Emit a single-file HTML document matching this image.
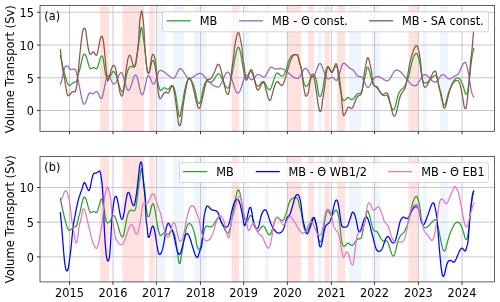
<!DOCTYPE html>
<html><head><meta charset="utf-8"><title>Volume Transport</title>
<style>
html,body{margin:0;padding:0;background:#fff;}
svg{display:block}
text{font-family:'DejaVu Sans','Liberation Sans',sans-serif;font-size:11.6px;fill:#000}
</style></head><body>
<svg width="500" height="302" viewBox="0 0 500 302">
<rect width="500" height="302" fill="#fff"/>

<g>
<rect x="100.0" y="5.5" width="9.0" height="125.8" fill="#ffe2df"/>
<rect x="122.2" y="5.5" width="22.0" height="125.8" fill="#ffe2df"/>
<rect x="149.3" y="5.5" width="5.2" height="125.8" fill="#ffe2df"/>
<rect x="231.5" y="5.5" width="7.6" height="125.8" fill="#ffe2df"/>
<rect x="287.4" y="5.5" width="13.9" height="125.8" fill="#ffe2df"/>
<rect x="308" y="5.5" width="6.0" height="125.8" fill="#ffe2df"/>
<rect x="324.4" y="5.5" width="5.4" height="125.8" fill="#ffe2df"/>
<rect x="337.1" y="5.5" width="8.0" height="125.8" fill="#ffe2df"/>
<rect x="408.5" y="5.5" width="9.9" height="125.8" fill="#ffe2df"/>
<rect x="156.6" y="5.5" width="8.8" height="125.8" fill="#eef5fd"/>
<rect x="173" y="5.5" width="10.8" height="125.8" fill="#eef5fd"/>
<rect x="194" y="5.5" width="12.0" height="125.8" fill="#eef5fd"/>
<rect x="243.6" y="5.5" width="5.3" height="125.8" fill="#eef5fd"/>
<rect x="265" y="5.5" width="3.8" height="125.8" fill="#eef5fd"/>
<rect x="317.7" y="5.5" width="4.4" height="125.8" fill="#eef5fd"/>
<rect x="349" y="5.5" width="12.3" height="125.8" fill="#eef5fd"/>
<rect x="372" y="5.5" width="7.9" height="125.8" fill="#eef5fd"/>
<rect x="422.9" y="5.5" width="3.9" height="125.8" fill="#eef5fd"/>
<rect x="440.2" y="5.5" width="7.5" height="125.8" fill="#eef5fd"/>
<path d="M69.5 5.5 V131.3 M113.0 5.5 V131.3 M156.4 5.5 V131.3 M200.5 5.5 V131.3 M243.6 5.5 V131.3 M287.4 5.5 V131.3 M331.4 5.5 V131.3 M374.5 5.5 V131.3 M418.4 5.5 V131.3 M462.0 5.5 V131.3 M40.0 110.5 H494.4 M40.0 77.8 H494.4 M40.0 45.0 H494.4 M40.0 12.3 H494.4" stroke="#c2c2c2" stroke-width="0.9" fill="none"/>
<path d="M60.4 55.4 L60.8 57.3 L61.2 59.3 L61.6 61.2 L62.0 63.0 L62.4 64.9 L62.8 66.6 L63.2 68.3 L63.6 70.0 L64.0 71.6 L64.4 73.1 L64.8 74.6 L65.2 76.0 L65.6 77.4 L66.0 78.8 L66.4 80.1 L66.8 81.3 L67.2 82.4 L67.6 83.4 L68.0 84.2 L68.4 84.9 L68.8 85.3 L69.2 85.4 L69.6 85.3 L70.0 85.2 L70.4 85.0 L70.8 84.7 L71.2 84.4 L71.6 84.1 L72.0 83.8 L72.4 83.4 L72.8 83.1 L73.2 82.8 L73.6 82.5 L74.0 82.2 L74.4 82.1 L74.8 82.0 L75.2 82.0 L75.6 82.0 L76.0 81.8 L76.4 81.4 L76.8 80.8 L77.2 79.6 L77.6 77.6 L78.0 75.5 L78.4 73.9 L78.8 72.6 L79.2 71.3 L79.6 70.0 L80.0 68.5 L80.4 66.8 L80.8 65.0 L81.2 63.2 L81.6 61.4 L82.0 59.6 L82.4 58.0 L82.8 56.6 L83.2 55.4 L83.6 54.6 L84.0 54.2 L84.4 54.1 L84.8 54.2 L85.2 54.6 L85.6 55.2 L86.0 56.1 L86.4 57.2 L86.8 58.4 L87.2 59.8 L87.6 61.2 L88.0 62.6 L88.4 64.0 L88.8 65.3 L89.2 66.4 L89.6 67.4 L90.0 68.1 L90.4 68.6 L90.8 68.8 L91.2 68.7 L91.6 68.6 L92.0 68.3 L92.4 68.1 L92.8 67.8 L93.2 67.7 L93.6 67.6 L94.0 67.7 L94.4 67.8 L94.8 68.1 L95.2 68.3 L95.6 68.6 L96.0 68.7 L96.4 68.8 L96.8 68.6 L97.2 68.0 L97.6 67.2 L98.0 66.0 L98.4 64.7 L98.8 63.3 L99.2 61.9 L99.6 60.5 L100.0 59.1 L100.4 58.0 L100.8 57.0 L101.2 56.4 L101.6 56.0 L102.0 56.0 L102.4 56.3 L102.8 57.4 L103.2 59.2 L103.6 61.5 L104.0 64.1 L104.4 66.8 L104.8 69.5 L105.2 72.1 L105.6 74.3 L106.0 76.0 L106.4 77.1 L106.8 77.9 L107.2 78.3 L107.6 78.4 L108.0 78.4 L108.4 78.3 L108.8 78.1 L109.2 77.8 L109.6 77.4 L110.0 76.9 L110.4 76.3 L110.8 75.6 L111.2 74.7 L111.6 73.8 L112.0 72.9 L112.4 72.1 L112.8 71.6 L113.2 71.4 L113.6 71.5 L114.0 71.7 L114.4 72.1 L114.8 72.7 L115.2 73.4 L115.6 74.1 L116.0 75.0 L116.4 76.0 L116.8 77.1 L117.2 78.3 L117.6 79.6 L118.0 80.9 L118.4 82.3 L118.8 83.7 L119.2 85.0 L119.6 86.4 L120.0 87.6 L120.4 88.7 L120.8 89.7 L121.2 90.5 L121.6 91.0 L122.0 91.4 L122.4 91.6 L122.8 91.4 L123.2 90.9 L123.6 89.9 L124.0 88.4 L124.4 86.6 L124.8 84.5 L125.2 82.3 L125.6 80.1 L126.0 78.0 L126.4 76.0 L126.8 74.2 L127.2 72.6 L127.6 71.2 L128.0 70.0 L128.4 69.0 L128.8 68.2 L129.2 67.6 L129.6 67.1 L130.0 66.7 L130.4 66.5 L130.8 66.4 L131.2 66.4 L131.6 66.6 L132.0 66.7 L132.4 66.8 L132.8 67.0 L133.2 67.0 L133.6 67.0 L134.0 67.1 L134.4 67.0 L134.8 66.6 L135.2 66.0 L135.6 65.0 L136.0 63.2 L136.4 60.6 L136.8 57.7 L137.2 55.0 L137.6 52.2 L138.0 49.2 L138.4 45.8 L138.8 42.6 L139.2 40.0 L139.6 37.5 L140.0 35.0 L140.4 32.1 L140.8 29.4 L141.2 27.5 L141.6 27.3 L142.0 29.0 L142.4 31.7 L142.8 34.7 L143.2 37.2 L143.6 39.4 L144.0 41.7 L144.4 44.5 L144.8 48.0 L145.2 52.3 L145.6 57.0 L146.0 61.3 L146.4 64.8 L146.8 67.8 L147.2 70.2 L147.6 71.8 L148.0 72.5 L148.4 72.7 L148.8 72.5 L149.2 71.9 L149.6 70.8 L150.0 69.4 L150.4 67.7 L150.8 66.0 L151.2 64.3 L151.6 62.8 L152.0 61.6 L152.4 60.8 L152.8 60.4 L153.2 60.4 L153.6 60.7 L154.0 61.7 L154.4 63.2 L154.8 65.1 L155.2 67.4 L155.6 69.8 L156.0 72.4 L156.4 74.8 L156.8 77.1 L157.2 79.3 L157.6 81.4 L158.0 83.4 L158.4 85.2 L158.8 86.8 L159.2 88.1 L159.6 89.1 L160.0 89.9 L160.4 90.3 L160.8 90.3 L161.2 90.1 L161.6 89.9 L162.0 89.5 L162.4 89.1 L162.8 88.8 L163.2 88.4 L163.6 88.1 L164.0 87.9 L164.4 87.8 L164.8 87.9 L165.2 88.0 L165.6 88.2 L166.0 88.5 L166.4 88.7 L166.8 89.0 L167.2 89.2 L167.6 89.3 L168.0 89.4 L168.4 89.3 L168.8 88.9 L169.2 88.5 L169.6 87.9 L170.0 87.2 L170.4 86.6 L170.8 86.1 L171.2 85.7 L171.6 85.4 L172.0 85.4 L172.4 85.5 L172.8 85.8 L173.2 86.3 L173.6 86.9 L174.0 87.8 L174.4 88.9 L174.8 90.3 L175.2 92.0 L175.6 94.0 L176.0 96.5 L176.4 99.3 L176.8 102.2 L177.2 105.0 L177.6 107.5 L178.0 110.0 L178.4 112.7 L178.8 115.2 L179.2 116.5 L179.6 116.5 L180.0 116.5 L180.4 115.2 L180.8 112.6 L181.2 110.0 L181.6 107.9 L182.0 106.0 L182.4 103.9 L182.8 101.5 L183.2 99.0 L183.6 96.4 L184.0 94.0 L184.4 91.8 L184.8 89.7 L185.2 87.9 L185.6 86.1 L186.0 84.6 L186.4 83.2 L186.8 82.0 L187.2 81.0 L187.6 80.2 L188.0 79.6 L188.4 79.3 L188.8 79.1 L189.2 79.0 L189.6 79.1 L190.0 79.2 L190.4 79.5 L190.8 79.8 L191.2 80.3 L191.6 80.8 L192.0 81.5 L192.4 82.3 L192.8 83.2 L193.2 84.3 L193.6 85.4 L194.0 86.7 L194.4 88.1 L194.8 89.6 L195.2 91.3 L195.6 93.1 L196.0 95.0 L196.4 97.2 L196.8 99.2 L197.2 100.7 L197.6 101.9 L198.0 102.7 L198.4 103.3 L198.8 103.5 L199.2 103.6 L199.6 103.3 L200.0 102.7 L200.4 101.7 L200.8 100.4 L201.2 98.7 L201.6 96.6 L202.0 94.5 L202.4 92.5 L202.8 90.7 L203.2 89.0 L203.6 87.5 L204.0 86.1 L204.4 84.9 L204.8 83.8 L205.2 82.9 L205.6 82.2 L206.0 81.7 L206.4 81.4 L206.8 81.4 L207.2 81.4 L207.6 81.5 L208.0 81.6 L208.4 81.7 L208.8 81.9 L209.2 82.0 L209.6 82.1 L210.0 82.2 L210.4 82.2 L210.8 82.2 L211.2 82.1 L211.6 81.9 L212.0 81.7 L212.4 81.3 L212.8 80.9 L213.2 80.5 L213.6 80.0 L214.0 79.5 L214.4 78.9 L214.8 78.3 L215.2 77.7 L215.6 77.0 L216.0 76.4 L216.4 75.7 L216.8 75.1 L217.2 74.6 L217.6 74.2 L218.0 73.9 L218.4 73.8 L218.8 73.9 L219.2 74.1 L219.6 74.4 L220.0 74.9 L220.4 75.5 L220.8 76.1 L221.2 76.9 L221.6 77.7 L222.0 78.5 L222.4 79.4 L222.8 80.3 L223.2 81.2 L223.6 82.1 L224.0 83.0 L224.4 83.9 L224.8 84.7 L225.2 85.5 L225.6 86.2 L226.0 86.8 L226.4 87.3 L226.8 87.7 L227.2 88.0 L227.6 88.2 L228.0 88.2 L228.4 87.8 L228.8 87.2 L229.2 86.2 L229.6 85.0 L230.0 83.6 L230.4 82.0 L230.8 80.2 L231.2 78.2 L231.6 76.2 L232.0 74.1 L232.4 71.9 L232.8 69.8 L233.2 67.6 L233.6 65.5 L234.0 63.4 L234.4 61.2 L234.8 59.2 L235.2 57.2 L235.6 55.3 L236.0 53.4 L236.4 51.7 L236.8 50.1 L237.2 48.8 L237.6 47.9 L238.0 47.4 L238.4 47.3 L238.8 47.4 L239.2 47.9 L239.6 49.0 L240.0 50.5 L240.4 52.4 L240.8 54.4 L241.2 56.6 L241.6 59.0 L242.0 61.5 L242.4 64.0 L242.8 66.3 L243.2 68.4 L243.6 70.4 L244.0 72.2 L244.4 73.9 L244.8 75.3 L245.2 76.4 L245.6 77.3 L246.0 77.8 L246.4 78.0 L246.8 77.8 L247.2 77.4 L247.6 76.7 L248.0 75.9 L248.4 74.9 L248.8 74.0 L249.2 73.1 L249.6 72.3 L250.0 71.8 L250.4 71.4 L250.8 71.4 L251.2 71.7 L251.6 72.2 L252.0 72.9 L252.4 73.8 L252.8 74.8 L253.2 75.9 L253.6 77.1 L254.0 78.3 L254.4 79.6 L254.8 80.8 L255.2 82.0 L255.6 83.1 L256.0 84.1 L256.4 84.9 L256.8 85.5 L257.2 86.0 L257.6 86.2 L258.0 86.2 L258.4 86.0 L258.8 85.7 L259.2 85.3 L259.6 84.9 L260.0 84.4 L260.4 83.9 L260.8 83.3 L261.2 82.8 L261.6 82.4 L262.0 82.0 L262.4 81.7 L262.8 81.5 L263.2 81.4 L263.6 81.5 L264.0 81.8 L264.4 82.2 L264.8 82.8 L265.2 83.5 L265.6 84.2 L266.0 85.0 L266.4 85.8 L266.8 86.6 L267.2 87.4 L267.6 88.1 L268.0 88.7 L268.4 89.2 L268.8 89.6 L269.2 89.8 L269.6 89.8 L270.0 89.5 L270.4 89.0 L270.8 88.4 L271.2 87.5 L271.6 86.5 L272.0 85.4 L272.4 84.3 L272.8 83.0 L273.2 81.7 L273.6 80.4 L274.0 79.2 L274.4 77.9 L274.8 76.8 L275.2 75.7 L275.6 74.8 L276.0 74.1 L276.4 73.5 L276.8 73.1 L277.2 73.0 L277.6 73.1 L278.0 73.2 L278.4 73.5 L278.8 73.8 L279.2 74.2 L279.6 74.6 L280.0 75.0 L280.4 75.4 L280.8 75.7 L281.2 76.0 L281.6 76.1 L282.0 76.2 L282.4 76.1 L282.8 75.9 L283.2 75.6 L283.6 75.1 L284.0 74.5 L284.4 73.8 L284.8 73.0 L285.2 72.0 L285.6 71.0 L286.0 69.9 L286.4 68.7 L286.8 67.4 L287.2 66.0 L287.6 64.5 L288.0 63.0 L288.4 61.7 L288.8 60.6 L289.2 59.6 L289.6 58.7 L290.0 58.0 L290.4 57.3 L290.8 56.8 L291.2 56.4 L291.6 56.0 L292.0 55.6 L292.4 55.3 L292.8 55.1 L293.2 54.9 L293.6 54.8 L294.0 54.6 L294.4 54.6 L294.8 54.5 L295.2 54.5 L295.6 54.5 L296.0 54.5 L296.4 54.5 L296.8 54.7 L297.2 55.1 L297.6 55.6 L298.0 56.4 L298.4 57.7 L298.8 59.4 L299.2 61.3 L299.6 63.0 L300.0 64.3 L300.4 65.4 L300.8 66.6 L301.2 68.3 L301.6 70.3 L302.0 72.6 L302.4 75.1 L302.8 77.5 L303.2 79.7 L303.6 81.6 L304.0 83.1 L304.4 84.2 L304.8 85.1 L305.2 85.7 L305.6 86.1 L306.0 86.3 L306.4 86.3 L306.8 86.2 L307.2 85.9 L307.6 85.5 L308.0 84.9 L308.4 84.1 L308.8 83.3 L309.2 82.3 L309.6 81.1 L310.0 79.9 L310.4 78.5 L310.8 77.2 L311.2 76.0 L311.6 75.0 L312.0 74.4 L312.4 74.0 L312.8 74.0 L313.2 74.1 L313.6 74.2 L314.0 74.5 L314.4 74.9 L314.8 75.6 L315.2 76.4 L315.6 77.5 L316.0 78.9 L316.4 80.7 L316.8 82.9 L317.2 85.6 L317.6 88.4 L318.0 90.8 L318.4 92.9 L318.8 94.7 L319.2 95.8 L319.6 96.4 L320.0 96.5 L320.4 96.4 L320.8 96.0 L321.2 95.2 L321.6 94.2 L322.0 92.8 L322.4 91.1 L322.8 89.0 L323.2 86.5 L323.6 83.7 L324.0 81.0 L324.4 78.6 L324.8 76.3 L325.2 74.2 L325.6 72.3 L326.0 70.6 L326.4 69.3 L326.8 68.2 L327.2 67.4 L327.6 67.0 L328.0 67.0 L328.4 67.3 L328.8 67.8 L329.2 68.4 L329.6 69.1 L330.0 69.8 L330.4 70.5 L330.8 71.1 L331.2 71.5 L331.6 71.6 L332.0 71.5 L332.4 71.1 L332.8 70.7 L333.2 70.0 L333.6 69.4 L334.0 68.6 L334.4 68.0 L334.8 67.3 L335.2 66.9 L335.6 66.5 L336.0 66.4 L336.4 66.5 L336.8 66.9 L337.2 67.6 L337.6 68.6 L338.0 69.9 L338.4 71.6 L338.8 73.5 L339.2 75.8 L339.6 78.5 L340.0 81.5 L340.4 85.0 L340.8 89.1 L341.2 92.6 L341.6 95.2 L342.0 97.2 L342.4 98.6 L342.8 99.6 L343.2 100.2 L343.6 100.5 L344.0 100.6 L344.4 100.5 L344.8 100.3 L345.2 100.0 L345.6 99.5 L346.0 99.1 L346.4 98.7 L346.8 98.2 L347.2 97.9 L347.6 97.7 L348.0 97.6 L348.4 97.7 L348.8 97.8 L349.2 98.0 L349.6 98.3 L350.0 98.6 L350.4 98.9 L350.8 99.2 L351.2 99.4 L351.6 99.5 L352.0 99.6 L352.4 99.5 L352.8 99.3 L353.2 99.0 L353.6 98.6 L354.0 98.1 L354.4 97.6 L354.8 97.0 L355.2 96.4 L355.6 95.9 L356.0 95.3 L356.4 94.8 L356.8 94.3 L357.2 94.0 L357.6 93.7 L358.0 93.5 L358.4 93.5 L358.8 93.5 L359.2 93.5 L359.6 93.4 L360.0 93.4 L360.4 93.2 L360.8 92.8 L361.2 92.3 L361.6 91.4 L362.0 90.3 L362.4 88.9 L362.8 87.0 L363.2 84.8 L363.6 82.5 L364.0 80.5 L364.4 79.0 L364.8 77.7 L365.2 76.4 L365.6 74.9 L366.0 72.7 L366.4 70.0 L366.8 68.3 L367.2 67.4 L367.6 67.1 L368.0 67.1 L368.4 67.9 L368.8 69.2 L369.2 70.5 L369.6 71.8 L370.0 73.2 L370.4 74.7 L370.8 76.4 L371.2 78.0 L371.6 79.6 L372.0 81.0 L372.4 82.3 L372.8 83.4 L373.2 84.3 L373.6 85.1 L374.0 85.6 L374.4 85.9 L374.8 86.1 L375.2 86.2 L375.6 86.2 L376.0 86.3 L376.4 86.4 L376.8 86.5 L377.2 86.9 L377.6 87.4 L378.0 88.0 L378.4 88.7 L378.8 89.5 L379.2 90.2 L379.6 91.0 L380.0 91.7 L380.4 92.3 L380.8 92.9 L381.2 93.5 L381.6 94.1 L382.0 94.5 L382.4 94.9 L382.8 95.2 L383.2 95.5 L383.6 95.6 L384.0 95.6 L384.4 95.5 L384.8 95.5 L385.2 95.4 L385.6 95.3 L386.0 95.3 L386.4 95.4 L386.8 95.5 L387.2 95.8 L387.6 96.3 L388.0 97.1 L388.4 98.0 L388.8 99.0 L389.2 100.2 L389.6 101.5 L390.0 102.7 L390.4 104.0 L390.8 105.2 L391.2 106.4 L391.6 107.4 L392.0 108.3 L392.4 109.0 L392.8 109.4 L393.2 109.7 L393.6 109.7 L394.0 109.5 L394.4 108.8 L394.8 107.9 L395.2 106.6 L395.6 105.1 L396.0 103.5 L396.4 101.8 L396.8 100.1 L397.2 98.5 L397.6 97.0 L398.0 95.7 L398.4 94.6 L398.8 93.6 L399.2 92.7 L399.6 91.9 L400.0 91.2 L400.4 90.7 L400.8 90.2 L401.2 89.7 L401.6 89.4 L402.0 89.0 L402.4 88.7 L402.8 88.4 L403.2 88.0 L403.6 87.6 L404.0 87.1 L404.4 86.5 L404.8 85.8 L405.2 85.1 L405.6 84.3 L406.0 83.4 L406.4 82.5 L406.8 81.6 L407.2 80.7 L407.6 79.7 L408.0 78.6 L408.4 77.4 L408.8 76.0 L409.2 74.4 L409.6 72.6 L410.0 70.7 L410.4 68.8 L410.8 66.9 L411.2 65.1 L411.6 63.4 L412.0 61.9 L412.4 60.5 L412.8 59.2 L413.2 58.1 L413.6 57.1 L414.0 56.2 L414.4 55.4 L414.8 54.7 L415.2 54.2 L415.6 53.8 L416.0 53.5 L416.4 53.4 L416.8 53.6 L417.2 54.1 L417.6 55.0 L418.0 56.0 L418.4 57.2 L418.8 58.5 L419.2 60.0 L419.6 61.8 L420.0 64.0 L420.4 66.8 L420.8 69.9 L421.2 73.0 L421.6 75.7 L422.0 77.8 L422.4 79.3 L422.8 80.5 L423.2 81.4 L423.6 82.1 L424.0 82.6 L424.4 82.8 L424.8 83.0 L425.2 83.0 L425.6 83.0 L426.0 82.9 L426.4 82.8 L426.8 82.6 L427.2 82.4 L427.6 82.1 L428.0 81.8 L428.4 81.4 L428.8 81.0 L429.2 80.6 L429.6 80.2 L430.0 79.8 L430.4 79.3 L430.8 78.9 L431.2 78.4 L431.6 78.0 L432.0 77.6 L432.4 77.2 L432.8 76.8 L433.2 76.5 L433.6 76.2 L434.0 75.9 L434.4 75.7 L434.8 75.5 L435.2 75.4 L435.6 75.4 L436.0 75.6 L436.4 76.2 L436.8 77.1 L437.2 78.3 L437.6 79.7 L438.0 81.4 L438.4 83.2 L438.8 85.2 L439.2 87.2 L439.6 89.2 L440.0 91.2 L440.4 93.2 L440.8 95.1 L441.2 96.9 L441.6 98.5 L442.0 100.1 L442.4 101.5 L442.8 102.7 L443.2 103.7 L443.6 104.4 L444.0 104.8 L444.4 104.9 L444.8 104.8 L445.2 104.4 L445.6 103.5 L446.0 102.3 L446.4 100.8 L446.8 99.2 L447.2 97.5 L447.6 96.0 L448.0 94.6 L448.4 93.2 L448.8 92.0 L449.2 90.8 L449.6 89.7 L450.0 88.7 L450.4 87.7 L450.8 86.7 L451.2 85.8 L451.6 84.9 L452.0 84.0 L452.4 83.2 L452.8 82.4 L453.2 81.7 L453.6 81.0 L454.0 80.4 L454.4 79.9 L454.8 79.4 L455.2 79.0 L455.6 78.6 L456.0 78.3 L456.4 78.1 L456.8 78.0 L457.2 77.9 L457.6 77.8 L458.0 77.8 L458.4 77.9 L458.8 78.1 L459.2 78.4 L459.6 78.8 L460.0 79.3 L460.4 79.9 L460.8 80.6 L461.2 81.3 L461.6 82.2 L462.0 83.1 L462.4 84.1 L462.8 85.2 L463.2 86.3 L463.6 87.5 L464.0 88.9 L464.4 90.4 L464.8 91.8 L465.2 93.0 L465.6 93.8 L466.0 94.2 L466.4 94.2 L466.8 93.9 L467.2 92.9 L467.6 91.4 L468.0 89.3 L468.4 86.8 L468.8 83.9 L469.2 80.7 L469.6 77.2 L470.0 73.5 L470.4 69.7 L470.8 65.9 L471.2 62.5 L471.6 59.6 L472.0 57.2 L472.4 55.0 L472.8 53.0 L473.2 51.1 L473.6 49.3 L473.8 48.4" stroke="#2ca02c" stroke-width="1.25" fill="none" stroke-linejoin="round" stroke-linecap="square"/>
<path d="M60.4 84.4 L60.8 83.3 L61.2 82.1 L61.6 80.8 L62.0 79.4 L62.4 77.8 L62.8 76.0 L63.2 73.9 L63.6 71.8 L64.0 70.0 L64.4 68.6 L64.8 67.6 L65.2 66.9 L65.6 66.3 L66.0 66.0 L66.4 65.8 L66.8 65.8 L67.2 65.9 L67.6 66.2 L68.0 66.7 L68.4 67.2 L68.8 67.7 L69.2 68.3 L69.6 68.8 L70.0 69.2 L70.4 69.4 L70.8 69.4 L71.2 69.4 L71.6 69.3 L72.0 69.3 L72.4 69.3 L72.8 69.2 L73.2 69.2 L73.6 69.2 L74.0 69.2 L74.4 69.2 L74.8 69.3 L75.2 69.6 L75.6 70.1 L76.0 71.0 L76.4 72.4 L76.8 74.1 L77.2 76.0 L77.6 77.8 L78.0 79.7 L78.4 81.5 L78.8 83.4 L79.2 85.4 L79.6 87.4 L80.0 89.6 L80.4 91.7 L80.8 93.8 L81.2 95.9 L81.6 97.8 L82.0 99.5 L82.4 101.0 L82.8 102.3 L83.2 103.3 L83.6 103.8 L84.0 104.1 L84.4 104.1 L84.8 103.9 L85.2 103.3 L85.6 102.6 L86.0 101.6 L86.4 100.5 L86.8 99.3 L87.2 98.1 L87.6 96.8 L88.0 95.7 L88.4 94.7 L88.8 93.8 L89.2 93.2 L89.6 92.8 L90.0 92.8 L90.4 92.9 L90.8 93.1 L91.2 93.3 L91.6 93.4 L92.0 93.6 L92.4 93.8 L92.8 93.8 L93.2 93.7 L93.6 93.6 L94.0 93.3 L94.4 93.0 L94.8 92.6 L95.2 92.2 L95.6 91.9 L96.0 91.6 L96.4 91.5 L96.8 91.4 L97.2 91.6 L97.6 92.0 L98.0 92.7 L98.4 93.6 L98.8 94.5 L99.2 95.5 L99.6 96.4 L100.0 97.3 L100.4 98.0 L100.8 98.4 L101.2 98.6 L101.6 98.4 L102.0 97.7 L102.4 96.6 L102.8 95.3 L103.2 93.6 L103.6 91.8 L104.0 89.8 L104.4 87.8 L104.8 85.7 L105.2 83.7 L105.6 81.7 L106.0 79.9 L106.4 78.4 L106.8 77.1 L107.2 76.1 L107.6 75.5 L108.0 75.4 L108.4 75.6 L108.8 75.9 L109.2 76.4 L109.6 77.1 L110.0 77.8 L110.4 78.6 L110.8 79.5 L111.2 80.3 L111.6 81.2 L112.0 82.0 L112.4 82.7 L112.8 83.3 L113.2 83.8 L113.6 84.1 L114.0 84.2 L114.4 84.1 L114.8 83.8 L115.2 83.3 L115.6 82.7 L116.0 82.0 L116.4 81.2 L116.8 80.3 L117.2 79.3 L117.6 78.4 L118.0 77.4 L118.4 76.4 L118.8 75.5 L119.2 74.7 L119.6 74.0 L120.0 73.4 L120.4 72.9 L120.8 72.6 L121.2 72.5 L121.6 72.7 L122.0 73.1 L122.4 73.9 L122.8 74.9 L123.2 76.0 L123.6 77.3 L124.0 78.7 L124.4 80.2 L124.8 81.8 L125.2 83.3 L125.6 84.7 L126.0 86.1 L126.4 87.3 L126.8 88.4 L127.2 89.3 L127.6 89.9 L128.0 90.2 L128.4 90.3 L128.8 90.2 L129.2 89.9 L129.6 89.3 L130.0 88.6 L130.4 87.6 L130.8 86.6 L131.2 85.4 L131.6 84.1 L132.0 82.8 L132.4 81.5 L132.8 80.3 L133.2 79.1 L133.6 78.0 L134.0 77.0 L134.4 76.2 L134.8 75.6 L135.2 75.3 L135.6 75.2 L136.0 75.3 L136.4 75.7 L136.8 76.5 L137.2 77.6 L137.6 79.1 L138.0 80.7 L138.4 82.5 L138.8 84.4 L139.2 86.2 L139.6 88.1 L140.0 89.8 L140.4 91.4 L140.8 92.8 L141.2 93.8 L141.6 94.4 L142.0 94.7 L142.4 94.8 L142.8 94.5 L143.2 93.8 L143.6 92.7 L144.0 91.3 L144.4 89.6 L144.8 87.8 L145.2 85.8 L145.6 83.9 L146.0 81.9 L146.4 80.1 L146.8 78.5 L147.2 77.2 L147.6 76.2 L148.0 75.5 L148.4 75.4 L148.8 75.6 L149.2 76.1 L149.6 76.7 L150.0 77.5 L150.4 78.4 L150.8 79.4 L151.2 80.4 L151.6 81.4 L152.0 82.3 L152.4 83.1 L152.8 83.7 L153.2 84.1 L153.6 84.2 L154.0 84.0 L154.4 83.6 L154.8 82.9 L155.2 82.0 L155.6 81.0 L156.0 79.8 L156.4 78.6 L156.8 77.3 L157.2 76.0 L157.6 74.7 L158.0 73.5 L158.4 72.4 L158.8 71.6 L159.2 71.1 L159.6 70.7 L160.0 70.5 L160.4 70.4 L160.8 70.4 L161.2 70.5 L161.6 70.6 L162.0 70.7 L162.4 70.9 L162.8 71.1 L163.2 71.3 L163.6 71.6 L164.0 71.8 L164.4 72.1 L164.8 72.4 L165.2 72.7 L165.6 73.0 L166.0 73.4 L166.4 73.7 L166.8 74.0 L167.2 74.4 L167.6 74.7 L168.0 75.0 L168.4 75.4 L168.8 75.7 L169.2 76.0 L169.6 76.4 L170.0 76.7 L170.4 76.9 L170.8 77.2 L171.2 77.5 L171.6 77.7 L172.0 77.9 L172.4 78.0 L172.8 78.1 L173.2 78.2 L173.6 78.2 L174.0 78.1 L174.4 77.8 L174.8 77.4 L175.2 76.8 L175.6 76.1 L176.0 75.3 L176.4 74.5 L176.8 73.6 L177.2 72.7 L177.6 71.9 L178.0 71.1 L178.4 70.4 L178.8 69.7 L179.2 69.2 L179.6 68.8 L180.0 68.6 L180.4 68.6 L180.8 68.7 L181.2 68.9 L181.6 69.3 L182.0 69.6 L182.4 70.1 L182.8 70.6 L183.2 71.2 L183.6 71.8 L184.0 72.4 L184.4 73.1 L184.8 73.8 L185.2 74.4 L185.6 75.1 L186.0 75.7 L186.4 76.3 L186.8 76.8 L187.2 77.3 L187.6 77.8 L188.0 78.1 L188.4 78.4 L188.8 78.5 L189.2 78.6 L189.6 78.6 L190.0 78.5 L190.4 78.4 L190.8 78.3 L191.2 78.1 L191.6 77.9 L192.0 77.7 L192.4 77.5 L192.8 77.3 L193.2 77.0 L193.6 76.7 L194.0 76.4 L194.4 76.1 L194.8 75.9 L195.2 75.6 L195.6 75.3 L196.0 75.0 L196.4 74.7 L196.8 74.5 L197.2 74.3 L197.6 74.1 L198.0 73.9 L198.4 73.7 L198.8 73.6 L199.2 73.5 L199.6 73.4 L200.0 73.4 L200.4 73.4 L200.8 73.5 L201.2 73.7 L201.6 73.9 L202.0 74.1 L202.4 74.4 L202.8 74.8 L203.2 75.1 L203.6 75.5 L204.0 76.0 L204.4 76.4 L204.8 76.9 L205.2 77.3 L205.6 77.8 L206.0 78.3 L206.4 78.8 L206.8 79.3 L207.2 79.7 L207.6 80.2 L208.0 80.6 L208.4 81.0 L208.8 81.5 L209.2 81.9 L209.6 82.2 L210.0 82.6 L210.4 83.0 L210.8 83.3 L211.2 83.7 L211.6 84.0 L212.0 84.3 L212.4 84.6 L212.8 84.9 L213.2 85.2 L213.6 85.5 L214.0 85.7 L214.4 85.9 L214.8 86.2 L215.2 86.3 L215.6 86.5 L216.0 86.6 L216.4 86.8 L216.8 86.9 L217.2 86.9 L217.6 87.0 L218.0 87.0 L218.4 87.0 L218.8 86.8 L219.2 86.5 L219.6 86.1 L220.0 85.6 L220.4 85.0 L220.8 84.3 L221.2 83.5 L221.6 82.7 L222.0 81.8 L222.4 80.9 L222.8 80.0 L223.2 79.0 L223.6 78.1 L224.0 77.2 L224.4 76.3 L224.8 75.5 L225.2 74.7 L225.6 74.0 L226.0 73.4 L226.4 72.9 L226.8 72.5 L227.2 72.2 L227.6 72.0 L228.0 72.0 L228.4 72.2 L228.8 72.6 L229.2 73.1 L229.6 73.8 L230.0 74.6 L230.4 75.5 L230.8 76.5 L231.2 77.6 L231.6 78.7 L232.0 79.9 L232.4 81.1 L232.8 82.4 L233.2 83.7 L233.6 84.9 L234.0 86.1 L234.4 87.3 L234.8 88.4 L235.2 89.4 L235.6 90.3 L236.0 91.1 L236.4 91.8 L236.8 92.3 L237.2 92.7 L237.6 92.9 L238.0 93.0 L238.4 92.9 L238.8 92.7 L239.2 92.2 L239.6 91.6 L240.0 90.8 L240.4 89.8 L240.8 88.7 L241.2 87.5 L241.6 86.3 L242.0 85.0 L242.4 83.7 L242.8 82.4 L243.2 81.1 L243.6 79.9 L244.0 78.7 L244.4 77.7 L244.8 76.8 L245.2 76.0 L245.6 75.5 L246.0 75.1 L246.4 75.0 L246.8 75.1 L247.2 75.3 L247.6 75.6 L248.0 76.0 L248.4 76.5 L248.8 77.0 L249.2 77.5 L249.6 78.1 L250.0 78.6 L250.4 79.0 L250.8 79.4 L251.2 79.6 L251.6 79.8 L252.0 79.8 L252.4 79.7 L252.8 79.4 L253.2 79.1 L253.6 78.8 L254.0 78.3 L254.4 77.9 L254.8 77.4 L255.2 76.8 L255.6 76.3 L256.0 75.9 L256.4 75.4 L256.8 75.1 L257.2 74.8 L257.6 74.5 L258.0 74.4 L258.4 74.4 L258.8 74.5 L259.2 74.6 L259.6 74.8 L260.0 75.0 L260.4 75.2 L260.8 75.5 L261.2 75.8 L261.6 76.0 L262.0 76.3 L262.4 76.5 L262.8 76.7 L263.2 76.9 L263.6 77.0 L264.0 77.0 L264.4 76.9 L264.8 76.7 L265.2 76.3 L265.6 75.8 L266.0 75.2 L266.4 74.5 L266.8 73.7 L267.2 72.9 L267.6 72.1 L268.0 71.3 L268.4 70.5 L268.8 69.7 L269.2 69.0 L269.6 68.4 L270.0 67.9 L270.4 67.5 L270.8 67.3 L271.2 67.2 L271.6 67.2 L272.0 67.3 L272.4 67.5 L272.8 67.7 L273.2 67.9 L273.6 68.1 L274.0 68.3 L274.4 68.5 L274.8 68.7 L275.2 68.9 L275.6 69.0 L276.0 69.0 L276.4 69.0 L276.8 69.0 L277.2 68.9 L277.6 68.9 L278.0 68.8 L278.4 68.8 L278.8 68.8 L279.2 68.7 L279.6 68.7 L280.0 68.6 L280.4 68.6 L280.8 68.6 L281.2 68.6 L281.6 68.7 L282.0 68.8 L282.4 68.9 L282.8 69.0 L283.2 69.2 L283.6 69.4 L284.0 69.6 L284.4 69.8 L284.8 70.1 L285.2 70.3 L285.6 70.6 L286.0 70.9 L286.4 71.2 L286.8 71.5 L287.2 71.8 L287.6 72.2 L288.0 72.5 L288.4 72.8 L288.8 73.2 L289.2 73.5 L289.6 73.9 L290.0 74.2 L290.4 74.5 L290.8 74.9 L291.2 75.2 L291.6 75.6 L292.0 75.9 L292.4 76.2 L292.8 76.5 L293.2 76.8 L293.6 77.1 L294.0 77.4 L294.4 77.6 L294.8 77.8 L295.2 78.0 L295.6 78.2 L296.0 78.3 L296.4 78.4 L296.8 78.5 L297.2 78.6 L297.6 78.6 L298.0 78.5 L298.4 78.3 L298.8 77.9 L299.2 77.5 L299.6 76.9 L300.0 76.3 L300.4 75.6 L300.8 74.8 L301.2 74.0 L301.6 73.3 L302.0 72.5 L302.4 71.7 L302.8 71.0 L303.2 70.3 L303.6 69.7 L304.0 69.2 L304.4 68.8 L304.8 68.5 L305.2 68.3 L305.6 68.3 L306.0 68.5 L306.4 68.7 L306.8 69.1 L307.2 69.6 L307.6 70.2 L308.0 70.8 L308.4 71.5 L308.8 72.2 L309.2 72.9 L309.6 73.6 L310.0 74.3 L310.4 75.0 L310.8 75.6 L311.2 76.1 L311.6 76.6 L312.0 76.9 L312.4 77.1 L312.8 77.2 L313.2 77.1 L313.6 76.7 L314.0 76.2 L314.4 75.5 L314.8 74.6 L315.2 73.6 L315.6 72.6 L316.0 71.5 L316.4 70.4 L316.8 69.2 L317.2 68.1 L317.6 67.1 L318.0 66.1 L318.4 65.2 L318.8 64.5 L319.2 64.0 L319.6 63.6 L320.0 63.5 L320.4 63.6 L320.8 64.0 L321.2 64.6 L321.6 65.3 L322.0 66.2 L322.4 67.2 L322.8 68.3 L323.2 69.4 L323.6 70.6 L324.0 71.8 L324.4 72.9 L324.8 74.0 L325.2 74.9 L325.6 75.8 L326.0 76.6 L326.4 77.3 L326.8 77.9 L327.2 78.4 L327.6 78.7 L328.0 78.9 L328.4 79.0 L328.8 78.9 L329.2 78.8 L329.6 78.5 L330.0 78.2 L330.4 78.0 L330.8 77.7 L331.2 77.4 L331.6 77.3 L332.0 77.2 L332.4 77.3 L332.8 77.5 L333.2 77.8 L333.6 78.2 L334.0 78.6 L334.4 79.0 L334.8 79.4 L335.2 79.8 L335.6 80.1 L336.0 80.3 L336.4 80.4 L336.8 80.2 L337.2 79.8 L337.6 79.1 L338.0 78.2 L338.4 77.2 L338.8 75.9 L339.2 74.6 L339.6 73.2 L340.0 71.8 L340.4 70.4 L340.8 69.0 L341.2 67.7 L341.6 66.4 L342.0 65.4 L342.4 64.5 L342.8 63.8 L343.2 63.4 L343.6 63.2 L344.0 63.2 L344.4 63.4 L344.8 63.6 L345.2 63.8 L345.6 64.1 L346.0 64.5 L346.4 64.9 L346.8 65.3 L347.2 65.7 L347.6 66.2 L348.0 66.6 L348.4 67.0 L348.8 67.4 L349.2 67.8 L349.6 68.1 L350.0 68.4 L350.4 68.6 L350.8 68.8 L351.2 69.0 L351.6 69.1 L352.0 69.3 L352.4 69.6 L352.8 69.8 L353.2 70.2 L353.6 70.6 L354.0 71.1 L354.4 71.7 L354.8 72.3 L355.2 72.9 L355.6 73.5 L356.0 74.1 L356.4 74.7 L356.8 75.2 L357.2 75.7 L357.6 76.0 L358.0 76.3 L358.4 76.4 L358.8 76.5 L359.2 76.5 L359.6 76.5 L360.0 76.5 L360.4 76.6 L360.8 76.7 L361.2 76.8 L361.6 77.0 L362.0 77.4 L362.4 77.9 L362.8 78.5 L363.2 79.3 L363.6 80.1 L364.0 81.0 L364.4 81.9 L364.8 82.8 L365.2 83.7 L365.6 84.5 L366.0 85.3 L366.4 86.0 L366.8 86.6 L367.2 87.0 L367.6 87.3 L368.0 87.4 L368.4 87.3 L368.8 87.0 L369.2 86.6 L369.6 86.0 L370.0 85.4 L370.4 84.6 L370.8 83.8 L371.2 83.0 L371.6 82.2 L372.0 81.3 L372.4 80.6 L372.8 79.9 L373.2 79.3 L373.6 78.8 L374.0 78.4 L374.4 78.0 L374.8 77.6 L375.2 77.4 L375.6 77.1 L376.0 76.9 L376.4 76.8 L376.8 76.7 L377.2 76.6 L377.6 76.6 L378.0 76.6 L378.4 76.6 L378.8 76.7 L379.2 76.8 L379.6 77.0 L380.0 77.2 L380.4 77.4 L380.8 77.6 L381.2 77.8 L381.6 78.1 L382.0 78.3 L382.4 78.6 L382.8 78.8 L383.2 79.1 L383.6 79.3 L384.0 79.6 L384.4 79.8 L384.8 80.0 L385.2 80.2 L385.6 80.4 L386.0 80.6 L386.4 80.7 L386.8 80.8 L387.2 80.8 L387.6 80.8 L388.0 80.7 L388.4 80.4 L388.8 80.1 L389.2 79.7 L389.6 79.2 L390.0 78.6 L390.4 78.0 L390.8 77.3 L391.2 76.6 L391.6 75.9 L392.0 75.2 L392.4 74.5 L392.8 73.8 L393.2 73.1 L393.6 72.5 L394.0 71.9 L394.4 71.4 L394.8 70.9 L395.2 70.5 L395.6 70.2 L396.0 70.1 L396.4 70.0 L396.8 70.0 L397.2 70.1 L397.6 70.2 L398.0 70.3 L398.4 70.5 L398.8 70.7 L399.2 70.9 L399.6 71.2 L400.0 71.5 L400.4 71.8 L400.8 72.1 L401.2 72.5 L401.6 72.9 L402.0 73.3 L402.4 73.7 L402.8 74.2 L403.2 74.6 L403.6 75.1 L404.0 75.6 L404.4 76.0 L404.8 76.5 L405.2 77.0 L405.6 77.5 L406.0 78.0 L406.4 78.5 L406.8 79.0 L407.2 79.5 L407.6 80.1 L408.0 80.6 L408.4 81.1 L408.8 81.6 L409.2 82.1 L409.6 82.6 L410.0 83.0 L410.4 83.5 L410.8 83.9 L411.2 84.2 L411.6 84.6 L412.0 84.9 L412.4 85.1 L412.8 85.3 L413.2 85.5 L413.6 85.6 L414.0 85.7 L414.4 85.7 L414.8 85.8 L415.2 85.8 L415.6 85.7 L416.0 85.6 L416.4 85.3 L416.8 85.0 L417.2 84.5 L417.6 84.1 L418.0 83.5 L418.4 82.9 L418.8 82.3 L419.2 81.6 L419.6 80.9 L420.0 80.2 L420.4 79.5 L420.8 78.8 L421.2 78.1 L421.6 77.5 L422.0 76.9 L422.4 76.4 L422.8 75.9 L423.2 75.4 L423.6 75.1 L424.0 74.8 L424.4 74.7 L424.8 74.6 L425.2 74.6 L425.6 74.7 L426.0 74.9 L426.4 75.1 L426.8 75.4 L427.2 75.7 L427.6 76.0 L428.0 76.4 L428.4 76.8 L428.8 77.2 L429.2 77.6 L429.6 78.1 L430.0 78.5 L430.4 79.0 L430.8 79.4 L431.2 79.8 L431.6 80.2 L432.0 80.6 L432.4 81.0 L432.8 81.3 L433.2 81.6 L433.6 81.8 L434.0 82.0 L434.4 82.1 L434.8 82.2 L435.2 82.2 L435.6 82.1 L436.0 81.9 L436.4 81.6 L436.8 81.2 L437.2 80.7 L437.6 80.2 L438.0 79.7 L438.4 79.1 L438.8 78.5 L439.2 78.0 L439.6 77.4 L440.0 76.8 L440.4 76.3 L440.8 75.8 L441.2 75.4 L441.6 75.1 L442.0 74.8 L442.4 74.7 L442.8 74.6 L443.2 74.6 L443.6 74.8 L444.0 75.0 L444.4 75.3 L444.8 75.6 L445.2 75.9 L445.6 76.3 L446.0 76.7 L446.4 77.1 L446.8 77.5 L447.2 77.9 L447.6 78.2 L448.0 78.5 L448.4 78.7 L448.8 78.9 L449.2 79.0 L449.6 79.0 L450.0 78.9 L450.4 78.8 L450.8 78.6 L451.2 78.4 L451.6 78.2 L452.0 77.9 L452.4 77.6 L452.8 77.3 L453.2 77.0 L453.6 76.7 L454.0 76.4 L454.4 76.1 L454.8 75.9 L455.2 75.7 L455.6 75.5 L456.0 75.4 L456.4 75.2 L456.8 75.1 L457.2 74.9 L457.6 74.6 L458.0 74.2 L458.4 73.6 L458.8 73.0 L459.2 72.2 L459.6 71.4 L460.0 70.5 L460.4 69.6 L460.8 68.6 L461.2 67.7 L461.6 66.8 L462.0 66.0 L462.4 65.2 L462.8 64.5 L463.2 63.9 L463.6 63.3 L464.0 62.9 L464.4 62.6 L464.8 62.4 L465.2 62.4 L465.6 62.8 L466.0 63.5 L466.4 64.5 L466.8 65.8 L467.2 67.3 L467.6 69.1 L468.0 71.0 L468.4 73.1 L468.8 75.4 L469.2 77.8 L469.6 80.4 L470.0 83.1 L470.4 85.6 L470.8 88.0 L471.2 90.1 L471.6 91.8 L472.0 93.2 L472.4 94.4 L472.8 95.3 L473.2 96.1 L473.6 96.7 L473.8 97.0" stroke="#9467bd" stroke-width="1.25" fill="none" stroke-linejoin="round" stroke-linecap="square"/>
<path d="M60.4 49.6 L60.8 53.6 L61.2 57.4 L61.6 61.0 L62.0 64.4 L62.4 67.4 L62.8 70.0 L63.2 72.2 L63.6 74.1 L64.0 76.0 L64.4 78.2 L64.8 80.5 L65.2 83.0 L65.6 85.5 L66.0 88.0 L66.4 90.2 L66.8 92.2 L67.2 93.9 L67.6 95.1 L68.0 95.7 L68.4 95.8 L68.8 95.6 L69.2 95.3 L69.6 94.9 L70.0 94.5 L70.4 94.0 L70.8 93.4 L71.2 92.9 L71.6 92.5 L72.0 92.1 L72.4 91.8 L72.8 91.6 L73.2 91.6 L73.6 91.7 L74.0 91.8 L74.4 91.9 L74.8 92.0 L75.2 91.7 L75.6 90.8 L76.0 89.4 L76.4 87.4 L76.8 85.0 L77.2 82.0 L77.6 78.4 L78.0 74.3 L78.4 70.0 L78.8 65.7 L79.2 61.4 L79.6 57.2 L80.0 53.0 L80.4 49.0 L80.8 45.2 L81.2 41.7 L81.6 38.4 L82.0 35.5 L82.4 32.9 L82.8 31.0 L83.2 29.6 L83.6 28.7 L84.0 28.3 L84.4 28.2 L84.8 28.4 L85.2 29.0 L85.6 30.1 L86.0 32.1 L86.4 35.1 L86.8 38.4 L87.2 41.5 L87.6 44.3 L88.0 46.8 L88.4 49.0 L88.8 50.8 L89.2 52.3 L89.6 53.5 L90.0 54.2 L90.4 54.4 L90.8 54.3 L91.2 53.9 L91.6 53.4 L92.0 52.8 L92.4 52.3 L92.8 51.9 L93.2 51.8 L93.6 52.0 L94.0 52.4 L94.4 52.9 L94.8 53.6 L95.2 54.3 L95.6 54.8 L96.0 55.2 L96.4 55.4 L96.8 55.0 L97.2 54.0 L97.6 52.5 L98.0 50.6 L98.4 48.4 L98.8 46.1 L99.2 43.9 L99.6 41.8 L100.0 40.0 L100.4 38.5 L100.8 37.4 L101.2 36.6 L101.6 36.2 L102.0 36.3 L102.4 37.0 L102.8 38.2 L103.2 40.0 L103.6 42.6 L104.0 45.9 L104.4 49.9 L104.8 54.2 L105.2 58.8 L105.6 63.5 L106.0 68.0 L106.4 72.3 L106.8 76.0 L107.2 79.1 L107.6 80.9 L108.0 80.8 L108.4 80.0 L108.8 78.8 L109.2 77.3 L109.6 75.6 L110.0 74.0 L110.4 72.5 L110.8 71.0 L111.2 69.7 L111.6 68.5 L112.0 67.5 L112.4 66.6 L112.8 65.9 L113.2 65.5 L113.6 65.4 L114.0 65.5 L114.4 65.8 L114.8 66.5 L115.2 67.4 L115.6 68.6 L116.0 70.3 L116.4 72.5 L116.8 74.8 L117.2 77.2 L117.6 79.6 L118.0 82.0 L118.4 84.3 L118.8 86.5 L119.2 88.7 L119.6 90.6 L120.0 92.3 L120.4 93.8 L120.8 94.9 L121.2 95.6 L121.6 96.0 L122.0 96.0 L122.4 95.7 L122.8 94.5 L123.2 92.6 L123.6 90.1 L124.0 87.2 L124.4 84.0 L124.8 80.7 L125.2 77.4 L125.6 74.2 L126.0 71.2 L126.4 68.2 L126.8 65.4 L127.2 62.8 L127.6 60.5 L128.0 58.6 L128.4 57.1 L128.8 56.0 L129.2 55.4 L129.6 55.3 L130.0 55.4 L130.4 56.0 L130.8 56.9 L131.2 58.2 L131.6 59.7 L132.0 61.3 L132.4 62.9 L132.8 64.3 L133.2 65.4 L133.6 66.2 L134.0 66.5 L134.4 66.4 L134.8 66.0 L135.2 65.1 L135.6 63.5 L136.0 61.0 L136.4 58.1 L136.8 55.3 L137.2 52.7 L137.6 50.0 L138.0 47.0 L138.4 43.5 L138.8 38.8 L139.2 29.7 L139.6 22.1 L140.0 19.3 L140.4 16.8 L140.8 14.2 L141.2 12.0 L141.6 11.0 L142.0 11.6 L142.4 13.8 L142.8 16.8 L143.2 20.3 L143.6 24.3 L144.0 29.4 L144.4 40.0 L144.8 47.7 L145.2 51.0 L145.6 56.3 L146.0 60.9 L146.4 64.4 L146.8 67.5 L147.2 70.2 L147.6 72.2 L148.0 73.2 L148.4 73.4 L148.8 73.2 L149.2 72.3 L149.6 70.6 L150.0 68.3 L150.4 65.7 L150.8 62.9 L151.2 60.2 L151.6 57.8 L152.0 55.9 L152.4 54.8 L152.8 54.4 L153.2 54.4 L153.6 54.7 L154.0 55.5 L154.4 56.6 L154.8 58.2 L155.2 60.4 L155.6 63.0 L156.0 66.2 L156.4 70.0 L156.8 74.7 L157.2 80.1 L157.6 85.7 L158.0 90.0 L158.4 93.2 L158.8 95.5 L159.2 97.1 L159.6 98.1 L160.0 98.6 L160.4 98.7 L160.8 98.5 L161.2 97.9 L161.6 97.2 L162.0 96.4 L162.4 95.6 L162.8 94.9 L163.2 94.3 L163.6 93.7 L164.0 93.2 L164.4 92.8 L164.8 92.5 L165.2 92.3 L165.6 92.2 L166.0 92.3 L166.4 92.4 L166.8 92.6 L167.2 92.8 L167.6 92.9 L168.0 93.0 L168.4 92.8 L168.8 92.4 L169.2 91.7 L169.6 90.8 L170.0 89.9 L170.4 88.9 L170.8 88.0 L171.2 87.1 L171.6 86.4 L172.0 86.0 L172.4 85.8 L172.8 86.2 L173.2 87.2 L173.6 88.7 L174.0 90.6 L174.4 92.8 L174.8 95.2 L175.2 97.8 L175.6 100.6 L176.0 103.6 L176.4 106.7 L176.8 110.0 L177.2 113.4 L177.6 116.9 L178.0 120.0 L178.4 122.7 L178.8 124.6 L179.2 125.6 L179.6 125.7 L180.0 125.5 L180.4 124.8 L180.8 123.3 L181.2 121.3 L181.6 118.6 L182.0 115.2 L182.4 111.7 L182.8 108.4 L183.2 105.4 L183.6 102.6 L184.0 100.0 L184.4 97.5 L184.8 95.2 L185.2 92.8 L185.6 90.5 L186.0 88.3 L186.4 86.1 L186.8 84.1 L187.2 82.2 L187.6 80.7 L188.0 79.5 L188.4 78.6 L188.8 78.2 L189.2 78.1 L189.6 78.2 L190.0 78.6 L190.4 79.1 L190.8 79.9 L191.2 80.9 L191.6 82.1 L192.0 83.4 L192.4 84.9 L192.8 86.4 L193.2 88.1 L193.6 89.7 L194.0 91.4 L194.4 93.2 L194.8 94.9 L195.2 96.6 L195.6 98.3 L196.0 100.0 L196.4 101.7 L196.8 103.3 L197.2 104.8 L197.6 106.1 L198.0 107.2 L198.4 107.9 L198.8 108.3 L199.2 108.4 L199.6 108.2 L200.0 107.6 L200.4 106.5 L200.8 105.2 L201.2 103.5 L201.6 101.8 L202.0 100.0 L202.4 98.2 L202.8 96.3 L203.2 94.5 L203.6 92.6 L204.0 90.8 L204.4 88.9 L204.8 87.2 L205.2 85.5 L205.6 84.0 L206.0 82.6 L206.4 81.5 L206.8 80.6 L207.2 80.0 L207.6 79.7 L208.0 79.5 L208.4 79.4 L208.8 79.3 L209.2 79.3 L209.6 79.3 L210.0 79.2 L210.4 79.1 L210.8 78.7 L211.2 78.3 L211.6 77.6 L212.0 76.9 L212.4 76.2 L212.8 75.4 L213.2 74.6 L213.6 73.8 L214.0 73.0 L214.4 72.2 L214.8 71.3 L215.2 70.3 L215.6 69.2 L216.0 68.0 L216.4 66.9 L216.8 65.9 L217.2 65.1 L217.6 64.6 L218.0 64.3 L218.4 64.3 L218.8 64.5 L219.2 65.0 L219.6 65.7 L220.0 66.7 L220.4 67.9 L220.8 69.3 L221.2 70.8 L221.6 72.4 L222.0 74.2 L222.4 76.0 L222.8 77.9 L223.2 79.8 L223.6 81.7 L224.0 83.5 L224.4 85.4 L224.8 87.1 L225.2 88.7 L225.6 90.2 L226.0 91.5 L226.4 92.6 L226.8 93.4 L227.2 94.0 L227.6 94.4 L228.0 94.4 L228.4 94.1 L228.8 92.9 L229.2 91.0 L229.6 88.5 L230.0 85.5 L230.4 82.1 L230.8 78.6 L231.2 74.9 L231.6 71.4 L232.0 68.0 L232.4 64.9 L232.8 62.0 L233.2 59.1 L233.6 55.9 L234.0 52.2 L234.4 48.6 L234.8 45.5 L235.2 43.1 L235.6 41.2 L236.0 39.5 L236.4 37.8 L236.8 36.0 L237.2 34.3 L237.6 33.0 L238.0 32.3 L238.4 32.2 L238.8 32.4 L239.2 33.3 L239.6 34.9 L240.0 36.9 L240.4 39.0 L240.8 41.2 L241.2 43.4 L241.6 45.6 L242.0 48.5 L242.4 53.6 L242.8 58.0 L243.2 60.9 L243.6 62.9 L244.0 65.0 L244.4 68.0 L244.8 71.8 L245.2 75.6 L245.6 78.7 L246.0 80.1 L246.4 80.2 L246.8 80.0 L247.2 79.2 L247.6 78.2 L248.0 77.0 L248.4 75.7 L248.8 74.3 L249.2 73.0 L249.6 71.9 L250.0 70.9 L250.4 70.2 L250.8 69.8 L251.2 69.7 L251.6 69.8 L252.0 70.2 L252.4 71.0 L252.8 72.2 L253.2 73.7 L253.6 75.4 L254.0 77.2 L254.4 79.1 L254.8 81.1 L255.2 83.0 L255.6 84.8 L256.0 86.4 L256.4 87.8 L256.8 89.0 L257.2 89.7 L257.6 90.1 L258.0 90.0 L258.4 89.7 L258.8 89.3 L259.2 88.7 L259.6 87.9 L260.0 87.1 L260.4 86.3 L260.8 85.4 L261.2 84.6 L261.6 83.8 L262.0 83.2 L262.4 82.7 L262.8 82.3 L263.2 82.2 L263.6 82.4 L264.0 83.0 L264.4 83.9 L264.8 85.1 L265.2 86.5 L265.6 88.1 L266.0 89.7 L266.4 91.4 L266.8 93.0 L267.2 94.6 L267.6 96.0 L268.0 97.3 L268.4 98.4 L268.8 99.3 L269.2 100.0 L269.6 100.4 L270.0 100.6 L270.4 100.3 L270.8 99.4 L271.2 98.2 L271.6 96.7 L272.0 95.3 L272.4 93.8 L272.8 92.3 L273.2 90.8 L273.6 89.4 L274.0 88.0 L274.4 86.7 L274.8 85.5 L275.2 84.4 L275.6 83.4 L276.0 82.7 L276.4 82.1 L276.8 81.7 L277.2 81.6 L277.6 81.7 L278.0 81.9 L278.4 82.3 L278.8 82.7 L279.2 83.2 L279.6 83.8 L280.0 84.3 L280.4 84.7 L280.8 85.1 L281.2 85.3 L281.6 85.4 L282.0 85.3 L282.4 85.0 L282.8 84.5 L283.2 83.8 L283.6 83.0 L284.0 82.0 L284.4 81.0 L284.8 79.8 L285.2 78.5 L285.6 77.2 L286.0 75.8 L286.4 74.3 L286.8 72.9 L287.2 71.5 L287.6 70.0 L288.0 68.6 L288.4 67.3 L288.8 66.0 L289.2 64.8 L289.6 63.6 L290.0 62.4 L290.4 61.3 L290.8 60.2 L291.2 59.1 L291.6 58.2 L292.0 57.4 L292.4 56.7 L292.8 56.1 L293.2 55.7 L293.6 55.3 L294.0 55.0 L294.4 54.8 L294.8 54.7 L295.2 54.6 L295.6 54.6 L296.0 54.5 L296.4 54.5 L296.8 54.5 L297.2 54.7 L297.6 55.1 L298.0 55.7 L298.4 56.8 L298.8 58.6 L299.2 60.8 L299.6 62.8 L300.0 64.1 L300.4 65.1 L300.8 66.2 L301.2 68.0 L301.6 70.7 L302.0 74.0 L302.4 77.5 L302.8 80.9 L303.2 84.0 L303.6 86.5 L304.0 88.7 L304.4 91.0 L304.8 93.1 L305.2 94.9 L305.6 95.9 L306.0 96.2 L306.4 96.1 L306.8 95.8 L307.2 95.2 L307.6 94.4 L308.0 93.3 L308.4 91.7 L308.8 89.8 L309.2 87.4 L309.6 84.6 L310.0 82.0 L310.4 80.1 L310.8 78.6 L311.2 77.5 L311.6 76.8 L312.0 76.3 L312.4 76.0 L312.8 75.9 L313.2 76.0 L313.6 76.5 L314.0 77.6 L314.4 79.3 L314.8 81.4 L315.2 83.9 L315.6 86.6 L316.0 89.3 L316.4 91.9 L316.8 94.5 L317.2 97.6 L317.6 101.1 L318.0 104.0 L318.4 106.1 L318.8 107.9 L319.2 109.6 L319.6 110.9 L320.0 111.4 L320.4 111.5 L320.8 111.2 L321.2 110.4 L321.6 108.7 L322.0 105.6 L322.4 101.7 L322.8 98.9 L323.2 96.6 L323.6 94.1 L324.0 91.5 L324.4 88.6 L324.8 85.6 L325.2 82.4 L325.6 79.1 L326.0 75.7 L326.4 72.6 L326.8 69.8 L327.2 67.7 L327.6 66.6 L328.0 66.4 L328.4 66.8 L328.8 67.3 L329.2 68.1 L329.6 68.9 L330.0 69.8 L330.4 70.7 L330.8 71.5 L331.2 72.2 L331.6 72.6 L332.0 72.8 L332.4 72.5 L332.8 71.8 L333.2 70.8 L333.6 69.5 L334.0 68.1 L334.4 66.7 L334.8 65.5 L335.2 64.5 L335.6 63.9 L336.0 63.7 L336.4 63.8 L336.8 64.7 L337.2 66.6 L337.6 69.2 L338.0 72.4 L338.4 75.7 L338.8 79.1 L339.2 82.3 L339.6 85.0 L340.0 87.2 L340.4 89.2 L340.8 91.5 L341.2 94.7 L341.6 98.9 L342.0 103.5 L342.4 108.0 L342.8 111.8 L343.2 114.6 L343.6 115.6 L344.0 115.4 L344.4 115.0 L344.8 114.4 L345.2 113.6 L345.6 112.6 L346.0 111.7 L346.4 110.6 L346.8 109.7 L347.2 108.8 L347.6 108.1 L348.0 107.5 L348.4 107.2 L348.8 107.2 L349.2 107.3 L349.6 107.5 L350.0 107.8 L350.4 108.0 L350.8 108.3 L351.2 108.4 L351.6 108.5 L352.0 108.3 L352.4 107.9 L352.8 107.2 L353.2 106.4 L353.6 105.4 L354.0 104.4 L354.4 103.3 L354.8 102.3 L355.2 101.2 L355.6 100.2 L356.0 99.2 L356.4 98.3 L356.8 97.6 L357.2 96.9 L357.6 96.4 L358.0 96.1 L358.4 95.8 L358.8 95.7 L359.2 95.5 L359.6 95.4 L360.0 95.2 L360.4 94.9 L360.8 94.5 L361.2 93.8 L361.6 92.7 L362.0 91.2 L362.4 89.1 L362.8 86.3 L363.2 83.1 L363.6 79.6 L364.0 75.9 L364.4 72.6 L364.8 70.0 L365.2 68.0 L365.6 66.0 L366.0 64.0 L366.4 62.0 L366.8 59.8 L367.2 58.2 L367.6 57.6 L368.0 57.6 L368.4 58.0 L368.8 59.1 L369.2 60.7 L369.6 62.5 L370.0 64.2 L370.4 66.0 L370.8 67.7 L371.2 69.7 L371.6 72.2 L372.0 75.8 L372.4 79.4 L372.8 82.0 L373.2 83.7 L373.6 84.7 L374.0 85.3 L374.4 85.7 L374.8 86.0 L375.2 86.3 L375.6 86.6 L376.0 86.9 L376.4 87.2 L376.8 87.6 L377.2 88.0 L377.6 88.5 L378.0 89.0 L378.4 89.5 L378.8 90.1 L379.2 90.7 L379.6 91.3 L380.0 91.9 L380.4 92.5 L380.8 93.0 L381.2 93.5 L381.6 93.9 L382.0 94.2 L382.4 94.4 L382.8 94.4 L383.2 94.3 L383.6 94.2 L384.0 94.0 L384.4 93.8 L384.8 93.5 L385.2 93.3 L385.6 93.1 L386.0 93.0 L386.4 92.8 L386.8 92.8 L387.2 93.0 L387.6 93.6 L388.0 94.4 L388.4 95.6 L388.8 97.0 L389.2 98.5 L389.6 100.2 L390.0 102.1 L390.4 103.9 L390.8 105.8 L391.2 107.7 L391.6 109.4 L392.0 111.1 L392.4 112.6 L392.8 113.9 L393.2 114.9 L393.6 115.6 L394.0 116.0 L394.4 116.1 L394.8 116.0 L395.2 115.6 L395.6 114.8 L396.0 113.7 L396.4 112.4 L396.8 110.8 L397.2 109.1 L397.6 107.2 L398.0 105.3 L398.4 103.5 L398.8 101.6 L399.2 99.9 L399.6 98.3 L400.0 97.0 L400.4 95.9 L400.8 94.9 L401.2 94.2 L401.6 93.5 L402.0 92.9 L402.4 92.4 L402.8 91.9 L403.2 91.3 L403.6 90.8 L404.0 90.2 L404.4 89.6 L404.8 88.7 L405.2 87.8 L405.6 86.5 L406.0 85.0 L406.4 83.1 L406.8 80.9 L407.2 78.5 L407.6 76.0 L408.0 73.5 L408.4 71.1 L408.8 68.6 L409.2 66.4 L409.6 64.2 L410.0 62.3 L410.4 60.6 L410.8 59.0 L411.2 57.5 L411.6 56.2 L412.0 54.9 L412.4 53.7 L412.8 52.6 L413.2 51.4 L413.6 50.3 L414.0 49.3 L414.4 48.3 L414.8 47.4 L415.2 46.7 L415.6 46.1 L416.0 45.7 L416.4 45.6 L416.8 45.8 L417.2 46.3 L417.6 47.1 L418.0 48.2 L418.4 49.6 L418.8 51.1 L419.2 52.9 L419.6 55.1 L420.0 57.6 L420.4 60.6 L420.8 64.0 L421.2 68.0 L421.6 72.2 L422.0 76.0 L422.4 79.1 L422.8 81.6 L423.2 83.6 L423.6 85.2 L424.0 86.3 L424.4 87.0 L424.8 87.3 L425.2 87.3 L425.6 87.1 L426.0 86.8 L426.4 86.4 L426.8 85.8 L427.2 85.2 L427.6 84.5 L428.0 83.8 L428.4 82.9 L428.8 82.1 L429.2 81.1 L429.6 80.2 L430.0 79.3 L430.4 78.3 L430.8 77.4 L431.2 76.5 L431.6 75.6 L432.0 74.7 L432.4 74.0 L432.8 73.2 L433.2 72.6 L433.6 72.1 L434.0 71.6 L434.4 71.3 L434.8 71.1 L435.2 71.0 L435.6 71.4 L436.0 72.3 L436.4 73.8 L436.8 75.7 L437.2 77.7 L437.6 79.9 L438.0 82.1 L438.4 84.1 L438.8 85.8 L439.2 87.3 L439.6 88.6 L440.0 89.9 L440.4 91.2 L440.8 92.6 L441.2 94.1 L441.6 96.0 L442.0 98.3 L442.4 100.8 L442.8 103.3 L443.2 105.5 L443.6 107.1 L444.0 107.9 L444.4 108.1 L444.8 107.9 L445.2 107.3 L445.6 106.4 L446.0 105.1 L446.4 103.6 L446.8 102.0 L447.2 100.2 L447.6 98.5 L448.0 96.8 L448.4 95.2 L448.8 93.7 L449.2 92.3 L449.6 90.9 L450.0 89.6 L450.4 88.4 L450.8 87.3 L451.2 86.3 L451.6 85.4 L452.0 84.6 L452.4 83.9 L452.8 83.3 L453.2 82.8 L453.6 82.3 L454.0 81.9 L454.4 81.5 L454.8 81.2 L455.2 80.9 L455.6 80.7 L456.0 80.6 L456.4 80.5 L456.8 80.4 L457.2 80.4 L457.6 80.5 L458.0 80.7 L458.4 81.1 L458.8 81.6 L459.2 82.3 L459.6 83.2 L460.0 84.4 L460.4 85.7 L460.8 87.4 L461.2 89.3 L461.6 91.4 L462.0 93.7 L462.4 96.0 L462.8 98.4 L463.2 100.9 L463.6 103.2 L464.0 105.4 L464.4 107.1 L464.8 108.2 L465.2 108.7 L465.6 108.7 L466.0 108.3 L466.4 106.6 L466.8 104.0 L467.2 100.6 L467.6 96.9 L468.0 92.9 L468.4 89.1 L468.8 85.1 L469.2 80.8 L469.6 75.8 L470.0 69.9 L470.4 63.6 L470.8 59.1 L471.2 56.3 L471.6 53.5 L472.0 49.8 L472.4 45.6 L472.8 40.8 L473.2 35.7 L473.6 30.4" stroke="#8c564b" stroke-width="1.25" fill="none" stroke-linejoin="round" stroke-linecap="square"/>
<path d="M69.5 131.3 v2.9 M113.0 131.3 v2.9 M156.4 131.3 v2.9 M200.5 131.3 v2.9 M243.6 131.3 v2.9 M287.4 131.3 v2.9 M331.4 131.3 v2.9 M374.5 131.3 v2.9 M418.4 131.3 v2.9 M462.0 131.3 v2.9 M40.0 110.5 h-3.0 M40.0 77.8 h-3.0 M40.0 45.0 h-3.0 M40.0 12.3 h-3.0" stroke="#222" stroke-width="0.9" fill="none"/>
<rect x="40.0" y="5.5" width="454.4" height="125.8" fill="none" stroke="#303030" stroke-width="0.75"/>
<text transform="translate(34.0 115.4) scale(0.977 1)" text-anchor="end">0</text>
<text transform="translate(34.0 82.7) scale(0.977 1)" text-anchor="end">5</text>
<text transform="translate(34.0 49.9) scale(0.977 1)" text-anchor="end">10</text>
<text transform="translate(34.0 17.2) scale(0.977 1)" text-anchor="end">15</text>
<text transform="translate(14.4 69.2) rotate(-90)" text-anchor="middle">Volume Transport (Sv)</text>
<text transform="translate(44.3 20.1) scale(0.977 1)">(a)</text>
<rect x="162.5" y="11.7" width="326.0" height="20.1" rx="2.2" ry="2.2" fill="#fff" fill-opacity="0.8" stroke="#ccc" stroke-opacity="0.8" stroke-width="1"/>
<path d="M166.7 20.8 H190.7" stroke="#2ca02c" stroke-width="1.3" fill="none"/>
<text transform="translate(199.7 25.2) scale(0.977 1)">MB</text>
<path d="M239.1 20.8 H263.1" stroke="#9467bd" stroke-width="1.3" fill="none"/>
<text transform="translate(272.1 25.2) scale(0.977 1)">MB - Θ const.</text>
<path d="M369.0 20.8 H393.0" stroke="#8c564b" stroke-width="1.3" fill="none"/>
<text transform="translate(401.9 25.2) scale(0.977 1)">MB - SA const.</text>
</g>
<g>
<rect x="100.0" y="156.5" width="9.0" height="125.4" fill="#ffe2df"/>
<rect x="122.2" y="156.5" width="22.0" height="125.4" fill="#ffe2df"/>
<rect x="149.3" y="156.5" width="5.2" height="125.4" fill="#ffe2df"/>
<rect x="231.5" y="156.5" width="7.6" height="125.4" fill="#ffe2df"/>
<rect x="287.4" y="156.5" width="13.9" height="125.4" fill="#ffe2df"/>
<rect x="308" y="156.5" width="6.0" height="125.4" fill="#ffe2df"/>
<rect x="324.4" y="156.5" width="5.4" height="125.4" fill="#ffe2df"/>
<rect x="337.1" y="156.5" width="8.0" height="125.4" fill="#ffe2df"/>
<rect x="408.5" y="156.5" width="9.9" height="125.4" fill="#ffe2df"/>
<rect x="156.6" y="156.5" width="8.8" height="125.4" fill="#eef5fd"/>
<rect x="173" y="156.5" width="10.8" height="125.4" fill="#eef5fd"/>
<rect x="194" y="156.5" width="12.0" height="125.4" fill="#eef5fd"/>
<rect x="243.6" y="156.5" width="5.3" height="125.4" fill="#eef5fd"/>
<rect x="265" y="156.5" width="3.8" height="125.4" fill="#eef5fd"/>
<rect x="317.7" y="156.5" width="4.4" height="125.4" fill="#eef5fd"/>
<rect x="349" y="156.5" width="12.3" height="125.4" fill="#eef5fd"/>
<rect x="372" y="156.5" width="7.9" height="125.4" fill="#eef5fd"/>
<rect x="422.9" y="156.5" width="3.9" height="125.4" fill="#eef5fd"/>
<rect x="440.2" y="156.5" width="7.5" height="125.4" fill="#eef5fd"/>
<path d="M69.5 156.5 V281.9 M113.0 156.5 V281.9 M156.4 156.5 V281.9 M200.5 156.5 V281.9 M243.6 156.5 V281.9 M287.4 156.5 V281.9 M331.4 156.5 V281.9 M374.5 156.5 V281.9 M418.4 156.5 V281.9 M462.0 156.5 V281.9 M40.0 256.9 H494.4 M40.0 222.2 H494.4 M40.0 187.5 H494.4" stroke="#c2c2c2" stroke-width="0.9" fill="none"/>
<path d="M60.4 198.5 L60.8 200.6 L61.2 202.6 L61.6 204.6 L62.0 206.6 L62.4 208.5 L62.8 210.4 L63.2 212.2 L63.6 214.0 L64.0 215.7 L64.4 217.3 L64.8 218.8 L65.2 220.3 L65.6 221.8 L66.0 223.2 L66.4 224.6 L66.8 226.0 L67.2 227.1 L67.6 228.2 L68.0 229.1 L68.4 229.7 L68.8 230.1 L69.2 230.3 L69.6 230.2 L70.0 230.1 L70.4 229.9 L70.8 229.6 L71.2 229.3 L71.6 228.9 L72.0 228.6 L72.4 228.2 L72.8 227.8 L73.2 227.5 L73.6 227.2 L74.0 226.9 L74.4 226.7 L74.8 226.7 L75.2 226.7 L75.6 226.6 L76.0 226.4 L76.4 226.1 L76.8 225.4 L77.2 224.1 L77.6 222.0 L78.0 219.8 L78.4 218.1 L78.8 216.7 L79.2 215.4 L79.6 214.0 L80.0 212.4 L80.4 210.6 L80.8 208.7 L81.2 206.7 L81.6 204.8 L82.0 202.9 L82.4 201.2 L82.8 199.7 L83.2 198.5 L83.6 197.6 L84.0 197.2 L84.4 197.1 L84.8 197.2 L85.2 197.6 L85.6 198.3 L86.0 199.2 L86.4 200.4 L86.8 201.7 L87.2 203.1 L87.6 204.6 L88.0 206.1 L88.4 207.6 L88.8 208.9 L89.2 210.2 L89.6 211.2 L90.0 212.0 L90.4 212.5 L90.8 212.7 L91.2 212.6 L91.6 212.4 L92.0 212.2 L92.4 211.9 L92.8 211.7 L93.2 211.5 L93.6 211.4 L94.0 211.5 L94.4 211.7 L94.8 211.9 L95.2 212.2 L95.6 212.4 L96.0 212.6 L96.4 212.7 L96.8 212.5 L97.2 211.9 L97.6 210.9 L98.0 209.8 L98.4 208.4 L98.8 206.9 L99.2 205.4 L99.6 203.9 L100.0 202.4 L100.4 201.2 L100.8 200.2 L101.2 199.5 L101.6 199.1 L102.0 199.1 L102.4 199.5 L102.8 200.6 L103.2 202.5 L103.6 204.9 L104.0 207.7 L104.4 210.6 L104.8 213.5 L105.2 216.2 L105.6 218.5 L106.0 220.3 L106.4 221.5 L106.8 222.3 L107.2 222.7 L107.6 222.9 L108.0 222.8 L108.4 222.7 L108.8 222.5 L109.2 222.2 L109.6 221.8 L110.0 221.3 L110.4 220.7 L110.8 219.9 L111.2 219.0 L111.6 218.0 L112.0 217.0 L112.4 216.2 L112.8 215.7 L113.2 215.5 L113.6 215.5 L114.0 215.8 L114.4 216.2 L114.8 216.8 L115.2 217.5 L115.6 218.4 L116.0 219.3 L116.4 220.3 L116.8 221.5 L117.2 222.8 L117.6 224.1 L118.0 225.6 L118.4 227.0 L118.8 228.5 L119.2 229.9 L119.6 231.3 L120.0 232.6 L120.4 233.8 L120.8 234.8 L121.2 235.7 L121.6 236.3 L122.0 236.7 L122.4 236.8 L122.8 236.7 L123.2 236.2 L123.6 235.1 L124.0 233.5 L124.4 231.6 L124.8 229.4 L125.2 227.1 L125.6 224.7 L126.0 222.4 L126.4 220.3 L126.8 218.4 L127.2 216.7 L127.6 215.2 L128.0 214.0 L128.4 212.9 L128.8 212.1 L129.2 211.4 L129.6 210.8 L130.0 210.5 L130.4 210.2 L130.8 210.2 L131.2 210.2 L131.6 210.3 L132.0 210.5 L132.4 210.6 L132.8 210.7 L133.2 210.8 L133.6 210.8 L134.0 210.9 L134.4 210.7 L134.8 210.4 L135.2 209.7 L135.6 208.7 L136.0 206.8 L136.4 204.0 L136.8 200.9 L137.2 198.0 L137.6 195.1 L138.0 191.9 L138.4 188.3 L138.8 185.0 L139.2 182.1 L139.6 179.5 L140.0 176.9 L140.4 173.8 L140.8 170.9 L141.2 169.0 L141.6 168.7 L142.0 170.5 L142.4 173.4 L142.8 176.5 L143.2 179.2 L143.6 181.5 L144.0 184.0 L144.4 186.9 L144.8 190.6 L145.2 195.2 L145.6 200.2 L146.0 204.7 L146.4 208.5 L146.8 211.6 L147.2 214.1 L147.6 215.9 L148.0 216.7 L148.4 216.8 L148.8 216.6 L149.2 216.0 L149.6 214.8 L150.0 213.3 L150.4 211.6 L150.8 209.7 L151.2 208.0 L151.6 206.3 L152.0 205.0 L152.4 204.2 L152.8 203.8 L153.2 203.8 L153.6 204.2 L154.0 205.2 L154.4 206.7 L154.8 208.8 L155.2 211.2 L155.6 213.8 L156.0 216.5 L156.4 219.1 L156.8 221.5 L157.2 223.9 L157.6 226.1 L158.0 228.2 L158.4 230.1 L158.8 231.7 L159.2 233.1 L159.6 234.3 L160.0 235.0 L160.4 235.4 L160.8 235.5 L161.2 235.3 L161.6 235.0 L162.0 234.7 L162.4 234.3 L162.8 233.9 L163.2 233.5 L163.6 233.1 L164.0 232.9 L164.4 232.8 L164.8 232.9 L165.2 233.1 L165.6 233.3 L166.0 233.5 L166.4 233.8 L166.8 234.1 L167.2 234.3 L167.6 234.5 L168.0 234.5 L168.4 234.4 L168.8 234.0 L169.2 233.5 L169.6 232.9 L170.0 232.2 L170.4 231.6 L170.8 231.0 L171.2 230.6 L171.6 230.3 L172.0 230.3 L172.4 230.4 L172.8 230.7 L173.2 231.2 L173.6 231.9 L174.0 232.9 L174.4 234.1 L174.8 235.5 L175.2 237.3 L175.6 239.4 L176.0 242.0 L176.4 245.0 L176.8 248.1 L177.2 251.1 L177.6 253.7 L178.0 256.4 L178.4 259.3 L178.8 261.9 L179.2 263.3 L179.6 263.3 L180.0 263.3 L180.4 261.9 L180.8 259.2 L181.2 256.4 L181.6 254.1 L182.0 252.1 L182.4 249.9 L182.8 247.4 L183.2 244.7 L183.6 242.0 L184.0 239.4 L184.4 237.1 L184.8 234.9 L185.2 232.9 L185.6 231.1 L186.0 229.4 L186.4 228.0 L186.8 226.7 L187.2 225.7 L187.6 224.8 L188.0 224.2 L188.4 223.8 L188.8 223.6 L189.2 223.5 L189.6 223.6 L190.0 223.7 L190.4 224.0 L190.8 224.4 L191.2 224.8 L191.6 225.4 L192.0 226.2 L192.4 227.0 L192.8 228.0 L193.2 229.1 L193.6 230.3 L194.0 231.7 L194.4 233.2 L194.8 234.8 L195.2 236.5 L195.6 238.4 L196.0 240.5 L196.4 242.8 L196.8 244.9 L197.2 246.5 L197.6 247.8 L198.0 248.6 L198.4 249.2 L198.8 249.5 L199.2 249.6 L199.6 249.3 L200.0 248.6 L200.4 247.6 L200.8 246.2 L201.2 244.4 L201.6 242.2 L202.0 240.0 L202.4 237.8 L202.8 235.9 L203.2 234.1 L203.6 232.5 L204.0 231.1 L204.4 229.7 L204.8 228.6 L205.2 227.6 L205.6 226.9 L206.0 226.4 L206.4 226.1 L206.8 226.1 L207.2 226.1 L207.6 226.2 L208.0 226.3 L208.4 226.4 L208.8 226.5 L209.2 226.7 L209.6 226.8 L210.0 226.8 L210.4 226.9 L210.8 226.9 L211.2 226.8 L211.6 226.6 L212.0 226.3 L212.4 226.0 L212.8 225.6 L213.2 225.1 L213.6 224.6 L214.0 224.0 L214.4 223.4 L214.8 222.8 L215.2 222.1 L215.6 221.4 L216.0 220.7 L216.4 220.0 L216.8 219.4 L217.2 218.8 L217.6 218.4 L218.0 218.1 L218.4 218.0 L218.8 218.1 L219.2 218.3 L219.6 218.7 L220.0 219.2 L220.4 219.8 L220.8 220.5 L221.2 221.3 L221.6 222.1 L222.0 223.0 L222.4 223.9 L222.8 224.9 L223.2 225.9 L223.6 226.8 L224.0 227.8 L224.4 228.7 L224.8 229.6 L225.2 230.4 L225.6 231.1 L226.0 231.8 L226.4 232.3 L226.8 232.8 L227.2 233.1 L227.6 233.2 L228.0 233.2 L228.4 232.8 L228.8 232.2 L229.2 231.1 L229.6 229.9 L230.0 228.4 L230.4 226.6 L230.8 224.7 L231.2 222.7 L231.6 220.5 L232.0 218.3 L232.4 216.0 L232.8 213.7 L233.2 211.4 L233.6 209.2 L234.0 206.9 L234.4 204.7 L234.8 202.5 L235.2 200.4 L235.6 198.4 L236.0 196.4 L236.4 194.6 L236.8 192.9 L237.2 191.5 L237.6 190.5 L238.0 190.0 L238.4 189.9 L238.8 190.0 L239.2 190.6 L239.6 191.7 L240.0 193.3 L240.4 195.3 L240.8 197.4 L241.2 199.8 L241.6 202.3 L242.0 205.0 L242.4 207.6 L242.8 210.0 L243.2 212.3 L243.6 214.4 L244.0 216.3 L244.4 218.1 L244.8 219.6 L245.2 220.8 L245.6 221.7 L246.0 222.3 L246.4 222.4 L246.8 222.3 L247.2 221.8 L247.6 221.1 L248.0 220.2 L248.4 219.2 L248.8 218.2 L249.2 217.3 L249.6 216.5 L250.0 215.8 L250.4 215.5 L250.8 215.5 L251.2 215.8 L251.6 216.3 L252.0 217.0 L252.4 218.0 L252.8 219.0 L253.2 220.2 L253.6 221.5 L254.0 222.8 L254.4 224.1 L254.8 225.4 L255.2 226.7 L255.6 227.8 L256.0 228.9 L256.4 229.8 L256.8 230.4 L257.2 230.9 L257.6 231.1 L258.0 231.1 L258.4 230.9 L258.8 230.6 L259.2 230.2 L259.6 229.7 L260.0 229.2 L260.4 228.7 L260.8 228.1 L261.2 227.6 L261.6 227.1 L262.0 226.7 L262.4 226.3 L262.8 226.1 L263.2 226.1 L263.6 226.2 L264.0 226.5 L264.4 226.9 L264.8 227.5 L265.2 228.2 L265.6 229.0 L266.0 229.9 L266.4 230.7 L266.8 231.6 L267.2 232.4 L267.6 233.1 L268.0 233.8 L268.4 234.3 L268.8 234.7 L269.2 234.9 L269.6 234.9 L270.0 234.7 L270.4 234.2 L270.8 233.4 L271.2 232.6 L271.6 231.5 L272.0 230.3 L272.4 229.1 L272.8 227.8 L273.2 226.4 L273.6 225.0 L274.0 223.7 L274.4 222.4 L274.8 221.2 L275.2 220.1 L275.6 219.1 L276.0 218.3 L276.4 217.7 L276.8 217.3 L277.2 217.1 L277.6 217.2 L278.0 217.4 L278.4 217.7 L278.8 218.0 L279.2 218.4 L279.6 218.8 L280.0 219.3 L280.4 219.7 L280.8 220.0 L281.2 220.3 L281.6 220.5 L282.0 220.5 L282.4 220.5 L282.8 220.2 L283.2 219.9 L283.6 219.4 L284.0 218.7 L284.4 218.0 L284.8 217.1 L285.2 216.1 L285.6 215.0 L286.0 213.9 L286.4 212.6 L286.8 211.2 L287.2 209.7 L287.6 208.1 L288.0 206.5 L288.4 205.2 L288.8 204.0 L289.2 202.9 L289.6 202.0 L290.0 201.2 L290.4 200.5 L290.8 200.0 L291.2 199.5 L291.6 199.1 L292.0 198.7 L292.4 198.4 L292.8 198.2 L293.2 198.0 L293.6 197.8 L294.0 197.7 L294.4 197.6 L294.8 197.6 L295.2 197.5 L295.6 197.5 L296.0 197.5 L296.4 197.6 L296.8 197.8 L297.2 198.1 L297.6 198.7 L298.0 199.6 L298.4 200.9 L298.8 202.8 L299.2 204.8 L299.6 206.5 L300.0 207.9 L300.4 209.1 L300.8 210.4 L301.2 212.1 L301.6 214.3 L302.0 216.8 L302.4 219.4 L302.8 221.9 L303.2 224.3 L303.6 226.3 L304.0 227.8 L304.4 229.0 L304.8 229.9 L305.2 230.6 L305.6 231.0 L306.0 231.2 L306.4 231.2 L306.8 231.1 L307.2 230.8 L307.6 230.4 L308.0 229.7 L308.4 228.9 L308.8 228.0 L309.2 227.0 L309.6 225.8 L310.0 224.4 L310.4 223.0 L310.8 221.6 L311.2 220.3 L311.6 219.3 L312.0 218.6 L312.4 218.2 L312.8 218.2 L313.2 218.3 L313.6 218.5 L314.0 218.8 L314.4 219.2 L314.8 219.9 L315.2 220.8 L315.6 222.0 L316.0 223.4 L316.4 225.3 L316.8 227.6 L317.2 230.5 L317.6 233.4 L318.0 236.0 L318.4 238.3 L318.8 240.1 L319.2 241.4 L319.6 242.0 L320.0 242.1 L320.4 241.9 L320.8 241.5 L321.2 240.7 L321.6 239.6 L322.0 238.1 L322.4 236.3 L322.8 234.1 L323.2 231.4 L323.6 228.5 L324.0 225.7 L324.4 223.1 L324.8 220.6 L325.2 218.4 L325.6 216.4 L326.0 214.6 L326.4 213.2 L326.8 212.0 L327.2 211.2 L327.6 210.8 L328.0 210.8 L328.4 211.1 L328.8 211.6 L329.2 212.3 L329.6 213.0 L330.0 213.8 L330.4 214.5 L330.8 215.1 L331.2 215.5 L331.6 215.7 L332.0 215.5 L332.4 215.2 L332.8 214.7 L333.2 214.0 L333.6 213.3 L334.0 212.5 L334.4 211.8 L334.8 211.2 L335.2 210.6 L335.6 210.3 L336.0 210.2 L336.4 210.3 L336.8 210.7 L337.2 211.4 L337.6 212.5 L338.0 213.9 L338.4 215.6 L338.8 217.7 L339.2 220.1 L339.6 222.9 L340.0 226.2 L340.4 229.9 L340.8 234.2 L341.2 237.9 L341.6 240.7 L342.0 242.8 L342.4 244.3 L342.8 245.3 L343.2 246.0 L343.6 246.3 L344.0 246.4 L344.4 246.3 L344.8 246.1 L345.2 245.7 L345.6 245.3 L346.0 244.8 L346.4 244.3 L346.8 243.9 L347.2 243.6 L347.6 243.3 L348.0 243.2 L348.4 243.3 L348.8 243.4 L349.2 243.7 L349.6 244.0 L350.0 244.3 L350.4 244.6 L350.8 244.9 L351.2 245.1 L351.6 245.3 L352.0 245.3 L352.4 245.3 L352.8 245.1 L353.2 244.7 L353.6 244.3 L354.0 243.8 L354.4 243.2 L354.8 242.6 L355.2 242.0 L355.6 241.4 L356.0 240.8 L356.4 240.2 L356.8 239.8 L357.2 239.4 L357.6 239.1 L358.0 238.9 L358.4 238.8 L358.8 238.8 L359.2 238.8 L359.6 238.8 L360.0 238.7 L360.4 238.6 L360.8 238.2 L361.2 237.6 L361.6 236.7 L362.0 235.5 L362.4 234.0 L362.8 232.0 L363.2 229.7 L363.6 227.2 L364.0 225.1 L364.4 223.5 L364.8 222.2 L365.2 220.8 L365.6 219.1 L366.0 216.8 L366.4 214.0 L366.8 212.2 L367.2 211.2 L367.6 210.9 L368.0 210.9 L368.4 211.7 L368.8 213.1 L369.2 214.5 L369.6 215.9 L370.0 217.3 L370.4 219.0 L370.8 220.7 L371.2 222.5 L371.6 224.1 L372.0 225.6 L372.4 227.0 L372.8 228.2 L373.2 229.1 L373.6 229.9 L374.0 230.5 L374.4 230.9 L374.8 231.1 L375.2 231.1 L375.6 231.2 L376.0 231.2 L376.4 231.3 L376.8 231.5 L377.2 231.9 L377.6 232.4 L378.0 233.0 L378.4 233.8 L378.8 234.6 L379.2 235.4 L379.6 236.2 L380.0 236.9 L380.4 237.6 L380.8 238.3 L381.2 238.9 L381.6 239.5 L382.0 240.0 L382.4 240.4 L382.8 240.7 L383.2 240.9 L383.6 241.1 L384.0 241.1 L384.4 241.1 L384.8 241.0 L385.2 240.9 L385.6 240.8 L386.0 240.8 L386.4 240.9 L386.8 241.0 L387.2 241.3 L387.6 241.9 L388.0 242.6 L388.4 243.6 L388.8 244.8 L389.2 246.0 L389.6 247.3 L390.0 248.7 L390.4 250.0 L390.8 251.3 L391.2 252.6 L391.6 253.7 L392.0 254.6 L392.4 255.3 L392.8 255.8 L393.2 256.0 L393.6 256.1 L394.0 255.8 L394.4 255.2 L394.8 254.1 L395.2 252.8 L395.6 251.2 L396.0 249.4 L396.4 247.6 L396.8 245.8 L397.2 244.1 L397.6 242.6 L398.0 241.2 L398.4 240.0 L398.8 239.0 L399.2 238.0 L399.6 237.2 L400.0 236.5 L400.4 235.9 L400.8 235.3 L401.2 234.9 L401.6 234.5 L402.0 234.1 L402.4 233.8 L402.8 233.4 L403.2 233.0 L403.6 232.6 L404.0 232.1 L404.4 231.5 L404.8 230.8 L405.2 230.0 L405.6 229.1 L406.0 228.2 L406.4 227.2 L406.8 226.3 L407.2 225.3 L407.6 224.2 L408.0 223.1 L408.4 221.8 L408.8 220.3 L409.2 218.6 L409.6 216.8 L410.0 214.8 L410.4 212.7 L410.8 210.7 L411.2 208.7 L411.6 207.0 L412.0 205.4 L412.4 203.9 L412.8 202.6 L413.2 201.4 L413.6 200.3 L414.0 199.4 L414.4 198.5 L414.8 197.8 L415.2 197.2 L415.6 196.7 L416.0 196.5 L416.4 196.4 L416.8 196.6 L417.2 197.1 L417.6 198.0 L418.0 199.1 L418.4 200.4 L418.8 201.8 L419.2 203.4 L419.6 205.3 L420.0 207.6 L420.4 210.5 L420.8 213.9 L421.2 217.2 L421.6 220.0 L422.0 222.2 L422.4 223.9 L422.8 225.1 L423.2 226.0 L423.6 226.8 L424.0 227.3 L424.4 227.6 L424.8 227.7 L425.2 227.7 L425.6 227.7 L426.0 227.7 L426.4 227.5 L426.8 227.3 L427.2 227.1 L427.6 226.8 L428.0 226.4 L428.4 226.1 L428.8 225.7 L429.2 225.2 L429.6 224.8 L430.0 224.3 L430.4 223.8 L430.8 223.4 L431.2 222.9 L431.6 222.4 L432.0 222.0 L432.4 221.6 L432.8 221.2 L433.2 220.8 L433.6 220.5 L434.0 220.2 L434.4 220.0 L434.8 219.8 L435.2 219.7 L435.6 219.7 L436.0 219.9 L436.4 220.5 L436.8 221.5 L437.2 222.8 L437.6 224.3 L438.0 226.1 L438.4 228.0 L438.8 230.0 L439.2 232.2 L439.6 234.3 L440.0 236.5 L440.4 238.6 L440.8 240.6 L441.2 242.4 L441.6 244.2 L442.0 245.9 L442.4 247.4 L442.8 248.7 L443.2 249.7 L443.6 250.5 L444.0 250.9 L444.4 251.0 L444.8 250.9 L445.2 250.4 L445.6 249.5 L446.0 248.2 L446.4 246.6 L446.8 244.9 L447.2 243.2 L447.6 241.5 L448.0 240.0 L448.4 238.6 L448.8 237.3 L449.2 236.1 L449.6 234.9 L450.0 233.8 L450.4 232.7 L450.8 231.7 L451.2 230.7 L451.6 229.8 L452.0 228.9 L452.4 228.0 L452.8 227.2 L453.2 226.4 L453.6 225.7 L454.0 225.0 L454.4 224.4 L454.8 223.9 L455.2 223.5 L455.6 223.1 L456.0 222.8 L456.4 222.6 L456.8 222.4 L457.2 222.3 L457.6 222.2 L458.0 222.3 L458.4 222.4 L458.8 222.6 L459.2 222.9 L459.6 223.3 L460.0 223.8 L460.4 224.4 L460.8 225.2 L461.2 226.0 L461.6 226.9 L462.0 227.8 L462.4 228.9 L462.8 230.0 L463.2 231.3 L463.6 232.6 L464.0 234.0 L464.4 235.6 L464.8 237.1 L465.2 238.4 L465.6 239.3 L466.0 239.6 L466.4 239.6 L466.8 239.3 L467.2 238.3 L467.6 236.6 L468.0 234.4 L468.4 231.7 L468.8 228.7 L469.2 225.3 L469.6 221.7 L470.0 217.7 L470.4 213.6 L470.8 209.7 L471.2 206.0 L471.6 203.0 L472.0 200.4 L472.4 198.1 L472.8 195.9 L473.2 193.9 L473.6 192.0 L473.8 191.1" stroke="#2ca02c" stroke-width="1.25" fill="none" stroke-linejoin="round" stroke-linecap="square"/>
<path d="M60.4 212.8 L60.8 217.1 L61.2 221.5 L61.6 226.0 L62.0 230.8 L62.4 235.7 L62.8 240.8 L63.2 246.0 L63.6 251.2 L64.0 256.0 L64.4 259.9 L64.8 263.3 L65.2 266.0 L65.6 268.0 L66.0 269.5 L66.4 270.4 L66.8 270.8 L67.2 270.9 L67.6 270.5 L68.0 269.3 L68.4 267.4 L68.8 265.0 L69.2 262.1 L69.6 259.1 L70.0 256.0 L70.4 252.9 L70.8 249.6 L71.2 246.0 L71.6 242.0 L72.0 237.8 L72.4 233.6 L72.8 229.7 L73.2 226.4 L73.6 223.6 L74.0 221.2 L74.4 219.0 L74.8 217.0 L75.2 215.0 L75.6 212.9 L76.0 210.8 L76.4 208.7 L76.8 206.7 L77.2 204.7 L77.6 202.9 L78.0 201.2 L78.4 199.6 L78.8 198.2 L79.2 196.9 L79.6 195.7 L80.0 194.6 L80.4 193.5 L80.8 192.4 L81.2 191.3 L81.6 190.2 L82.0 189.0 L82.4 187.6 L82.8 186.2 L83.2 184.8 L83.6 183.7 L84.0 182.9 L84.4 182.6 L84.8 182.8 L85.2 183.3 L85.6 184.1 L86.0 185.0 L86.4 186.1 L86.8 187.1 L87.2 188.2 L87.6 189.1 L88.0 189.9 L88.4 190.4 L88.8 190.6 L89.2 190.3 L89.6 189.4 L90.0 188.1 L90.4 186.4 L90.8 184.5 L91.2 182.5 L91.6 180.5 L92.0 178.7 L92.4 177.0 L92.8 175.6 L93.2 174.5 L93.6 173.8 L94.0 173.4 L94.4 173.3 L94.8 173.2 L95.2 173.2 L95.6 173.2 L96.0 173.1 L96.4 172.9 L96.8 172.7 L97.2 172.5 L97.6 172.2 L98.0 171.9 L98.4 171.6 L98.8 171.3 L99.2 171.1 L99.6 171.1 L100.0 171.4 L100.4 172.7 L100.8 174.7 L101.2 177.2 L101.6 180.1 L102.0 183.2 L102.4 187.1 L102.8 192.5 L103.2 200.3 L103.6 210.5 L104.0 221.2 L104.4 230.3 L104.8 237.5 L105.2 243.4 L105.6 248.4 L106.0 252.7 L106.4 256.0 L106.8 258.4 L107.2 260.1 L107.6 260.9 L108.0 261.0 L108.4 260.7 L108.8 260.0 L109.2 258.5 L109.6 256.0 L110.0 251.8 L110.4 246.0 L110.8 238.9 L111.2 231.1 L111.6 224.0 L112.0 218.2 L112.4 213.5 L112.8 209.7 L113.2 206.5 L113.6 203.6 L114.0 201.2 L114.4 199.2 L114.8 197.7 L115.2 196.8 L115.6 196.4 L116.0 196.4 L116.4 196.7 L116.8 197.6 L117.2 198.9 L117.6 200.6 L118.0 202.7 L118.4 204.9 L118.8 207.2 L119.2 209.5 L119.6 211.8 L120.0 213.9 L120.4 215.8 L120.8 217.4 L121.2 218.5 L121.6 219.1 L122.0 219.3 L122.4 219.1 L122.8 218.5 L123.2 217.2 L123.6 215.5 L124.0 213.4 L124.4 211.0 L124.8 208.4 L125.2 205.7 L125.6 203.0 L126.0 200.5 L126.4 198.1 L126.8 196.0 L127.2 194.3 L127.6 193.1 L128.0 192.5 L128.4 192.4 L128.8 192.5 L129.2 193.1 L129.6 194.0 L130.0 195.2 L130.4 196.6 L130.8 198.2 L131.2 199.8 L131.6 201.4 L132.0 202.8 L132.4 204.0 L132.8 204.9 L133.2 205.5 L133.6 205.6 L134.0 205.5 L134.4 204.8 L134.8 203.5 L135.2 201.6 L135.6 199.3 L136.0 196.7 L136.4 194.0 L136.8 191.1 L137.2 188.0 L137.6 184.6 L138.0 180.9 L138.4 177.1 L138.8 173.3 L139.2 169.8 L139.6 166.7 L140.0 164.2 L140.4 162.6 L140.8 162.0 L141.2 162.1 L141.6 162.5 L142.0 165.1 L142.4 169.1 L142.8 174.0 L143.2 179.2 L143.6 184.0 L144.0 188.0 L144.4 191.0 L144.8 194.4 L145.2 200.0 L145.6 209.2 L146.0 218.0 L146.4 222.4 L146.8 224.7 L147.2 227.8 L147.6 232.3 L148.0 236.2 L148.4 237.3 L148.8 237.3 L149.2 237.1 L149.6 235.9 L150.0 234.4 L150.4 232.6 L150.8 230.9 L151.2 229.3 L151.6 227.9 L152.0 226.9 L152.4 226.3 L152.8 226.2 L153.2 226.3 L153.6 226.9 L154.0 228.1 L154.4 229.7 L154.8 231.8 L155.2 234.1 L155.6 236.7 L156.0 239.3 L156.4 242.0 L156.8 244.5 L157.2 246.9 L157.6 249.1 L158.0 250.9 L158.4 252.3 L158.8 253.5 L159.2 254.2 L159.6 254.5 L160.0 254.4 L160.4 254.1 L160.8 253.6 L161.2 252.9 L161.6 252.0 L162.0 250.9 L162.4 249.7 L162.8 248.2 L163.2 246.4 L163.6 244.5 L164.0 242.3 L164.4 240.0 L164.8 237.4 L165.2 234.6 L165.6 231.6 L166.0 229.3 L166.4 227.4 L166.8 226.0 L167.2 224.9 L167.6 224.0 L168.0 223.5 L168.4 223.3 L168.8 223.5 L169.2 224.0 L169.6 224.7 L170.0 225.6 L170.4 226.4 L170.8 227.3 L171.2 228.2 L171.6 229.1 L172.0 229.9 L172.4 230.9 L172.8 231.9 L173.2 233.1 L173.6 234.6 L174.0 236.2 L174.4 238.0 L174.8 239.9 L175.2 241.8 L175.6 243.8 L176.0 245.7 L176.4 247.5 L176.8 249.2 L177.2 250.7 L177.6 252.0 L178.0 253.1 L178.4 253.8 L178.8 254.2 L179.2 254.3 L179.6 254.2 L180.0 253.8 L180.4 253.2 L180.8 252.2 L181.2 251.1 L181.6 249.8 L182.0 248.3 L182.4 246.7 L182.8 245.0 L183.2 243.4 L183.6 241.7 L184.0 240.1 L184.4 238.6 L184.8 237.2 L185.2 236.0 L185.6 235.0 L186.0 234.2 L186.4 233.8 L186.8 233.6 L187.2 233.6 L187.6 233.7 L188.0 234.1 L188.4 234.6 L188.8 235.3 L189.2 236.2 L189.6 237.2 L190.0 238.2 L190.4 239.4 L190.8 240.7 L191.2 242.0 L191.6 243.4 L192.0 244.8 L192.4 246.2 L192.8 247.6 L193.2 248.9 L193.6 250.3 L194.0 251.5 L194.4 252.7 L194.8 253.8 L195.2 254.8 L195.6 255.7 L196.0 256.3 L196.4 256.8 L196.8 257.2 L197.2 257.4 L197.6 257.3 L198.0 256.7 L198.4 255.7 L198.8 254.3 L199.2 252.9 L199.6 251.6 L200.0 250.5 L200.4 249.7 L200.8 248.8 L201.2 247.5 L201.6 245.8 L202.0 243.3 L202.4 239.5 L202.8 234.0 L203.2 227.0 L203.6 221.0 L204.0 217.3 L204.4 215.0 L204.8 213.0 L205.2 211.2 L205.6 209.5 L206.0 208.1 L206.4 207.0 L206.8 206.3 L207.2 206.0 L207.6 206.1 L208.0 206.3 L208.4 206.5 L208.8 206.9 L209.2 207.3 L209.6 207.8 L210.0 208.2 L210.4 208.7 L210.8 209.1 L211.2 209.4 L211.6 209.7 L212.0 209.9 L212.4 210.0 L212.8 210.2 L213.2 210.2 L213.6 210.3 L214.0 210.4 L214.4 210.4 L214.8 210.5 L215.2 210.5 L215.6 210.7 L216.0 210.8 L216.4 211.0 L216.8 211.3 L217.2 211.7 L217.6 212.2 L218.0 212.8 L218.4 213.6 L218.8 214.5 L219.2 215.6 L219.6 216.9 L220.0 218.3 L220.4 219.7 L220.8 221.0 L221.2 222.1 L221.6 223.0 L222.0 223.7 L222.4 224.4 L222.8 225.0 L223.2 225.5 L223.6 225.9 L224.0 226.3 L224.4 226.6 L224.8 226.8 L225.2 226.9 L225.6 227.0 L226.0 227.0 L226.4 227.0 L226.8 226.9 L227.2 226.7 L227.6 226.3 L228.0 225.8 L228.4 225.1 L228.8 224.2 L229.2 223.1 L229.6 221.8 L230.0 220.1 L230.4 218.1 L230.8 216.0 L231.2 214.0 L231.6 212.2 L232.0 210.5 L232.4 208.9 L232.8 207.4 L233.2 206.0 L233.6 204.7 L234.0 203.6 L234.4 202.5 L234.8 201.7 L235.2 200.9 L235.6 200.3 L236.0 199.8 L236.4 199.5 L236.8 199.3 L237.2 199.2 L237.6 199.3 L238.0 199.5 L238.4 200.0 L238.8 200.7 L239.2 201.6 L239.6 202.7 L240.0 204.1 L240.4 205.6 L240.8 207.2 L241.2 209.0 L241.6 210.9 L242.0 212.9 L242.4 215.0 L242.8 217.3 L243.2 219.7 L243.6 222.3 L244.0 224.6 L244.4 225.6 L244.8 225.4 L245.2 224.7 L245.6 223.7 L246.0 222.4 L246.4 221.0 L246.8 219.4 L247.2 217.6 L247.6 215.7 L248.0 213.8 L248.4 212.0 L248.8 210.3 L249.2 209.0 L249.6 208.0 L250.0 207.5 L250.4 207.4 L250.8 207.7 L251.2 208.8 L251.6 210.7 L252.0 213.2 L252.4 216.0 L252.8 218.7 L253.2 221.0 L253.6 222.9 L254.0 224.4 L254.4 225.5 L254.8 226.4 L255.2 227.1 L255.6 227.7 L256.0 228.2 L256.4 228.4 L256.8 228.6 L257.2 228.6 L257.6 228.3 L258.0 227.8 L258.4 227.1 L258.8 226.0 L259.2 224.5 L259.6 222.7 L260.0 220.7 L260.4 218.8 L260.8 217.2 L261.2 215.8 L261.6 214.6 L262.0 213.6 L262.4 212.7 L262.8 211.9 L263.2 211.3 L263.6 210.7 L264.0 210.3 L264.4 210.1 L264.8 209.9 L265.2 209.8 L265.6 209.8 L266.0 210.2 L266.4 210.7 L266.8 211.6 L267.2 212.5 L267.6 213.7 L268.0 214.9 L268.4 216.1 L268.8 217.4 L269.2 218.6 L269.6 219.8 L270.0 221.0 L270.4 222.1 L270.8 223.2 L271.2 224.2 L271.6 225.1 L272.0 226.0 L272.4 226.8 L272.8 227.5 L273.2 228.2 L273.6 228.9 L274.0 229.5 L274.4 230.0 L274.8 230.5 L275.2 231.0 L275.6 231.4 L276.0 231.8 L276.4 232.1 L276.8 232.4 L277.2 232.6 L277.6 232.8 L278.0 232.9 L278.4 233.0 L278.8 233.0 L279.2 233.0 L279.6 233.0 L280.0 232.9 L280.4 232.8 L280.8 232.5 L281.2 232.2 L281.6 231.9 L282.0 231.4 L282.4 230.9 L282.8 230.3 L283.2 229.6 L283.6 228.8 L284.0 227.8 L284.4 226.7 L284.8 225.3 L285.2 223.6 L285.6 221.9 L286.0 220.3 L286.4 219.0 L286.8 218.1 L287.2 217.4 L287.6 216.9 L288.0 216.6 L288.4 216.2 L288.8 215.9 L289.2 215.5 L289.6 214.9 L290.0 214.1 L290.4 213.1 L290.8 212.0 L291.2 210.8 L291.6 209.4 L292.0 208.0 L292.4 206.6 L292.8 205.1 L293.2 203.6 L293.6 202.1 L294.0 200.8 L294.4 199.4 L294.8 198.2 L295.2 197.2 L295.6 196.2 L296.0 195.5 L296.4 195.0 L296.8 194.7 L297.2 194.6 L297.6 194.6 L298.0 194.8 L298.4 195.1 L298.8 195.7 L299.2 196.5 L299.6 197.6 L300.0 199.1 L300.4 200.8 L300.8 203.0 L301.2 205.6 L301.6 208.8 L302.0 212.3 L302.4 215.8 L302.8 218.7 L303.2 220.9 L303.6 222.8 L304.0 224.4 L304.4 226.0 L304.8 227.7 L305.2 229.5 L305.6 231.2 L306.0 232.6 L306.4 233.4 L306.8 233.8 L307.2 233.7 L307.6 233.5 L308.0 232.9 L308.4 232.1 L308.8 231.2 L309.2 230.1 L309.6 228.9 L310.0 227.7 L310.4 226.6 L310.8 225.5 L311.2 224.4 L311.6 223.3 L312.0 222.0 L312.4 220.5 L312.8 218.9 L313.2 217.9 L313.6 217.4 L314.0 217.4 L314.4 217.8 L314.8 218.9 L315.2 220.4 L315.6 222.0 L316.0 223.5 L316.4 225.1 L316.8 227.0 L317.2 229.5 L317.6 232.4 L318.0 235.5 L318.4 238.7 L318.8 241.6 L319.2 244.1 L319.6 245.9 L320.0 246.8 L320.4 246.9 L320.8 246.8 L321.2 246.0 L321.6 244.8 L322.0 243.1 L322.4 241.0 L322.8 238.8 L323.2 236.5 L323.6 234.1 L324.0 231.9 L324.4 229.9 L324.8 228.3 L325.2 227.0 L325.6 226.1 L326.0 225.5 L326.4 225.0 L326.8 224.6 L327.2 224.3 L327.6 224.0 L328.0 223.7 L328.4 223.4 L328.8 223.1 L329.2 222.6 L329.6 222.0 L330.0 221.3 L330.4 220.4 L330.8 219.3 L331.2 218.0 L331.6 216.5 L332.0 214.9 L332.4 213.1 L332.8 211.2 L333.2 209.3 L333.6 207.4 L334.0 205.6 L334.4 204.0 L334.8 202.6 L335.2 201.4 L335.6 200.6 L336.0 200.2 L336.4 200.0 L336.8 200.2 L337.2 200.7 L337.6 201.6 L338.0 203.0 L338.4 204.9 L338.8 207.0 L339.2 209.4 L339.6 212.1 L340.0 215.0 L340.4 218.0 L340.8 221.2 L341.2 224.0 L341.6 225.6 L342.0 226.3 L342.4 226.6 L342.8 227.0 L343.2 227.2 L343.6 227.3 L344.0 227.1 L344.4 227.0 L344.8 227.0 L345.2 227.1 L345.6 227.1 L346.0 227.1 L346.4 227.0 L346.8 226.7 L347.2 226.4 L347.6 225.9 L348.0 225.0 L348.4 223.9 L348.8 222.6 L349.2 221.4 L349.6 220.3 L350.0 219.2 L350.4 218.0 L350.8 216.7 L351.2 215.3 L351.6 214.0 L352.0 212.9 L352.4 212.3 L352.8 212.1 L353.2 212.3 L353.6 212.7 L354.0 213.2 L354.4 214.0 L354.8 215.0 L355.2 216.2 L355.6 217.6 L356.0 219.2 L356.4 221.0 L356.8 223.0 L357.2 225.1 L357.6 227.2 L358.0 229.0 L358.4 230.5 L358.8 231.4 L359.2 231.8 L359.6 231.8 L360.0 231.5 L360.4 230.9 L360.8 230.0 L361.2 229.0 L361.6 227.7 L362.0 226.4 L362.4 225.0 L362.8 223.6 L363.2 222.3 L363.6 221.0 L364.0 219.8 L364.4 218.8 L364.8 218.0 L365.2 217.5 L365.6 217.1 L366.0 217.0 L366.4 216.9 L366.8 217.1 L367.2 217.5 L367.6 218.2 L368.0 219.1 L368.4 220.2 L368.8 221.4 L369.2 222.7 L369.6 224.2 L370.0 225.7 L370.4 227.3 L370.8 228.9 L371.2 230.5 L371.6 232.0 L372.0 233.5 L372.4 235.0 L372.8 236.5 L373.2 238.1 L373.6 239.8 L374.0 241.4 L374.4 243.1 L374.8 244.7 L375.2 246.1 L375.6 247.5 L376.0 248.5 L376.4 249.4 L376.8 250.0 L377.2 250.5 L377.6 250.9 L378.0 251.2 L378.4 251.3 L378.8 251.4 L379.2 251.4 L379.6 251.4 L380.0 251.2 L380.4 251.0 L380.8 250.7 L381.2 250.2 L381.6 249.7 L382.0 249.0 L382.4 248.2 L382.8 247.1 L383.2 246.0 L383.6 244.8 L384.0 243.6 L384.4 242.3 L384.8 241.2 L385.2 240.1 L385.6 239.1 L386.0 238.3 L386.4 237.6 L386.8 237.1 L387.2 236.7 L387.6 236.5 L388.0 236.6 L388.4 236.8 L388.8 237.2 L389.2 237.8 L389.6 238.4 L390.0 239.1 L390.4 239.8 L390.8 240.6 L391.2 241.3 L391.6 241.9 L392.0 242.4 L392.4 242.8 L392.8 243.0 L393.2 243.0 L393.6 242.8 L394.0 242.6 L394.4 242.1 L394.8 241.6 L395.2 240.8 L395.6 239.8 L396.0 238.6 L396.4 237.2 L396.8 235.7 L397.2 234.1 L397.6 232.3 L398.0 230.6 L398.4 228.7 L398.8 226.8 L399.2 225.0 L399.6 223.3 L400.0 221.9 L400.4 220.7 L400.8 219.9 L401.2 219.2 L401.6 218.6 L402.0 218.1 L402.4 217.6 L402.8 217.3 L403.2 217.2 L403.6 217.2 L404.0 217.3 L404.4 217.5 L404.8 217.7 L405.2 217.9 L405.6 218.1 L406.0 218.3 L406.4 218.4 L406.8 218.5 L407.2 218.5 L407.6 218.3 L408.0 217.9 L408.4 217.3 L408.8 216.6 L409.2 215.9 L409.6 215.1 L410.0 214.2 L410.4 213.4 L410.8 212.6 L411.2 211.8 L411.6 211.1 L412.0 210.4 L412.4 209.7 L412.8 209.1 L413.2 208.5 L413.6 208.0 L414.0 207.5 L414.4 207.1 L414.8 206.8 L415.2 206.6 L415.6 206.4 L416.0 206.4 L416.4 206.5 L416.8 206.6 L417.2 207.0 L417.6 207.5 L418.0 208.2 L418.4 209.0 L418.8 210.1 L419.2 211.4 L419.6 213.0 L420.0 215.0 L420.4 217.1 L420.8 219.3 L421.2 221.0 L421.6 222.2 L422.0 223.1 L422.4 223.7 L422.8 224.1 L423.2 224.3 L423.6 224.4 L424.0 224.3 L424.4 223.9 L424.8 223.1 L425.2 222.1 L425.6 221.0 L426.0 220.0 L426.4 218.9 L426.8 217.9 L427.2 216.8 L427.6 215.7 L428.0 214.7 L428.4 213.6 L428.8 212.4 L429.2 211.3 L429.6 210.1 L430.0 208.9 L430.4 207.7 L430.8 206.6 L431.2 205.6 L431.6 204.7 L432.0 203.9 L432.4 203.4 L432.8 203.0 L433.2 202.8 L433.6 203.0 L434.0 203.5 L434.4 204.5 L434.8 206.1 L435.2 207.9 L435.6 209.8 L436.0 211.8 L436.4 214.2 L436.8 217.8 L437.2 222.1 L437.6 226.9 L438.0 231.8 L438.4 236.7 L438.8 241.8 L439.2 246.7 L439.6 251.5 L440.0 256.0 L440.4 260.2 L440.8 264.1 L441.2 267.7 L441.6 270.7 L442.0 273.2 L442.4 275.0 L442.8 276.0 L443.2 276.3 L443.6 276.2 L444.0 275.7 L444.4 274.6 L444.8 273.1 L445.2 271.3 L445.6 269.4 L446.0 267.6 L446.4 265.9 L446.8 264.6 L447.2 263.5 L447.6 262.6 L448.0 261.9 L448.4 261.3 L448.8 260.9 L449.2 260.6 L449.6 260.5 L450.0 260.4 L450.4 260.4 L450.8 260.5 L451.2 260.7 L451.6 261.0 L452.0 261.3 L452.4 261.6 L452.8 261.9 L453.2 262.1 L453.6 262.2 L454.0 262.2 L454.4 261.9 L454.8 261.5 L455.2 260.9 L455.6 260.2 L456.0 259.3 L456.4 258.4 L456.8 257.4 L457.2 256.4 L457.6 255.4 L458.0 254.4 L458.4 253.5 L458.8 252.5 L459.2 251.7 L459.6 250.9 L460.0 250.1 L460.4 249.5 L460.8 248.9 L461.2 248.5 L461.6 248.3 L462.0 248.2 L462.4 248.3 L462.8 248.6 L463.2 249.1 L463.6 249.6 L464.0 250.1 L464.4 250.6 L464.8 250.9 L465.2 251.0 L465.6 250.6 L466.0 249.6 L466.4 248.2 L466.8 246.7 L467.2 245.4 L467.6 243.9 L468.0 241.6 L468.4 237.9 L468.8 232.4 L469.2 226.6 L469.6 220.7 L470.0 215.3 L470.4 210.6 L470.8 207.0 L471.2 203.9 L471.6 201.0 L472.0 197.8 L472.4 195.0 L472.8 193.1 L473.2 191.9 L473.6 191.2" stroke="#0000ff" stroke-width="1.25" fill="none" stroke-linejoin="round" stroke-linecap="square"/>
<path d="M60.4 202.6 L60.8 201.5 L61.2 200.3 L61.6 199.2 L62.0 198.1 L62.4 197.1 L62.8 196.0 L63.2 195.0 L63.6 193.9 L64.0 193.0 L64.4 192.1 L64.8 191.4 L65.2 190.9 L65.6 190.6 L66.0 190.6 L66.4 191.0 L66.8 191.6 L67.2 192.5 L67.6 193.6 L68.0 194.9 L68.4 196.4 L68.8 198.0 L69.2 199.9 L69.6 202.1 L70.0 204.6 L70.4 207.6 L70.8 211.0 L71.2 214.7 L71.6 218.4 L72.0 221.4 L72.4 223.8 L72.8 225.9 L73.2 228.1 L73.6 230.6 L74.0 233.2 L74.4 235.8 L74.8 238.2 L75.2 240.3 L75.6 241.9 L76.0 242.8 L76.4 243.0 L76.8 242.9 L77.2 241.6 L77.6 238.9 L78.0 235.5 L78.4 231.8 L78.8 228.4 L79.2 225.9 L79.6 224.1 L80.0 222.7 L80.4 221.5 L80.8 220.0 L81.2 218.1 L81.6 215.8 L82.0 213.5 L82.4 211.4 L82.8 209.8 L83.2 209.1 L83.6 208.9 L84.0 209.1 L84.4 209.7 L84.8 210.6 L85.2 211.8 L85.6 213.2 L86.0 214.8 L86.4 216.5 L86.8 218.3 L87.2 220.0 L87.6 221.7 L88.0 223.5 L88.4 225.2 L88.8 226.8 L89.2 228.5 L89.6 230.1 L90.0 231.8 L90.4 233.4 L90.8 234.9 L91.2 236.5 L91.6 237.9 L92.0 239.4 L92.4 240.7 L92.8 242.0 L93.2 243.2 L93.6 244.3 L94.0 245.3 L94.4 246.1 L94.8 246.9 L95.2 247.4 L95.6 247.9 L96.0 248.2 L96.4 248.3 L96.8 248.2 L97.2 247.8 L97.6 246.8 L98.0 245.5 L98.4 243.8 L98.8 241.8 L99.2 239.7 L99.6 237.5 L100.0 235.2 L100.4 233.0 L100.8 231.0 L101.2 229.0 L101.6 226.8 L102.0 224.2 L102.4 221.0 L102.8 217.0 L103.2 212.4 L103.6 207.7 L104.0 203.1 L104.4 199.0 L104.8 196.0 L105.2 194.1 L105.6 192.6 L106.0 190.9 L106.4 189.1 L106.8 187.8 L107.2 187.2 L107.6 187.2 L108.0 187.6 L108.4 188.6 L108.8 190.1 L109.2 191.8 L109.6 193.3 L110.0 195.0 L110.4 197.3 L110.8 200.6 L111.2 205.0 L111.6 210.4 L112.0 215.8 L112.4 219.7 L112.8 222.2 L113.2 224.1 L113.6 226.1 L114.0 228.5 L114.4 231.1 L114.8 233.7 L115.2 236.0 L115.6 237.8 L116.0 239.1 L116.4 239.9 L116.8 240.5 L117.2 241.1 L117.6 241.7 L118.0 242.3 L118.4 242.9 L118.8 243.4 L119.2 243.9 L119.6 244.3 L120.0 244.5 L120.4 244.7 L120.8 244.7 L121.2 244.7 L121.6 244.6 L122.0 244.6 L122.4 244.4 L122.8 244.0 L123.2 243.5 L123.6 242.8 L124.0 242.0 L124.4 241.1 L124.8 240.1 L125.2 239.0 L125.6 237.9 L126.0 236.7 L126.4 235.5 L126.8 234.3 L127.2 233.1 L127.6 231.9 L128.0 230.7 L128.4 229.6 L128.8 228.6 L129.2 227.6 L129.6 226.8 L130.0 226.0 L130.4 225.4 L130.8 225.0 L131.2 224.7 L131.6 224.6 L132.0 224.8 L132.4 225.2 L132.8 225.9 L133.2 226.8 L133.6 227.8 L134.0 228.8 L134.4 230.0 L134.8 231.0 L135.2 232.0 L135.6 232.9 L136.0 233.6 L136.4 234.0 L136.8 234.2 L137.2 234.0 L137.6 233.2 L138.0 232.1 L138.4 230.7 L138.8 229.0 L139.2 227.1 L139.6 225.1 L140.0 222.9 L140.4 220.5 L140.8 218.0 L141.2 215.3 L141.6 212.5 L142.0 209.7 L142.4 207.3 L142.8 205.2 L143.2 203.9 L143.6 203.4 L144.0 203.4 L144.4 203.5 L144.8 203.6 L145.2 203.6 L145.6 203.7 L146.0 203.8 L146.4 203.8 L146.8 203.7 L147.2 203.4 L147.6 203.0 L148.0 202.4 L148.4 201.7 L148.8 200.9 L149.2 200.1 L149.6 199.2 L150.0 198.4 L150.4 197.5 L150.8 196.7 L151.2 195.9 L151.6 195.2 L152.0 194.6 L152.4 194.2 L152.8 193.9 L153.2 193.8 L153.6 194.0 L154.0 194.4 L154.4 195.2 L154.8 196.1 L155.2 197.3 L155.6 198.5 L156.0 199.9 L156.4 201.3 L156.8 202.7 L157.2 204.1 L157.6 205.4 L158.0 206.6 L158.4 207.6 L158.8 208.7 L159.2 209.7 L159.6 210.7 L160.0 211.8 L160.4 213.0 L160.8 214.4 L161.2 216.0 L161.6 217.9 L162.0 219.9 L162.4 222.0 L162.8 224.1 L163.2 225.9 L163.6 227.5 L164.0 229.0 L164.4 230.4 L164.8 231.6 L165.2 232.8 L165.6 233.9 L166.0 234.9 L166.4 235.7 L166.8 236.4 L167.2 236.9 L167.6 237.2 L168.0 237.2 L168.4 237.0 L168.8 236.7 L169.2 236.2 L169.6 235.5 L170.0 234.5 L170.4 233.3 L170.8 231.9 L171.2 230.0 L171.6 227.8 L172.0 225.8 L172.4 224.4 L172.8 223.5 L173.2 223.0 L173.6 222.8 L174.0 222.8 L174.4 223.0 L174.8 223.5 L175.2 224.4 L175.6 225.7 L176.0 227.3 L176.4 229.1 L176.8 231.0 L177.2 232.8 L177.6 234.6 L178.0 236.3 L178.4 237.8 L178.8 239.1 L179.2 240.1 L179.6 240.8 L180.0 241.2 L180.4 241.3 L180.8 241.2 L181.2 240.9 L181.6 240.4 L182.0 239.7 L182.4 238.8 L182.8 237.7 L183.2 236.4 L183.6 234.8 L184.0 233.0 L184.4 231.0 L184.8 228.7 L185.2 226.2 L185.6 223.9 L186.0 221.8 L186.4 219.9 L186.8 218.0 L187.2 216.4 L187.6 214.8 L188.0 213.4 L188.4 212.0 L188.8 210.8 L189.2 209.7 L189.6 208.7 L190.0 207.9 L190.4 207.2 L190.8 206.6 L191.2 206.2 L191.6 205.8 L192.0 205.7 L192.4 205.6 L192.8 205.7 L193.2 206.0 L193.6 206.4 L194.0 206.9 L194.4 207.6 L194.8 208.4 L195.2 209.3 L195.6 210.2 L196.0 211.2 L196.4 212.2 L196.8 213.2 L197.2 214.2 L197.6 215.2 L198.0 216.3 L198.4 217.4 L198.8 218.6 L199.2 220.1 L199.6 222.0 L200.0 224.2 L200.4 226.6 L200.8 228.9 L201.2 231.0 L201.6 232.8 L202.0 234.2 L202.4 235.5 L202.8 236.5 L203.2 237.4 L203.6 238.2 L204.0 238.9 L204.4 239.5 L204.8 240.0 L205.2 240.3 L205.6 240.6 L206.0 240.7 L206.4 240.8 L206.8 240.8 L207.2 240.8 L207.6 240.7 L208.0 240.5 L208.4 240.3 L208.8 240.1 L209.2 239.7 L209.6 239.3 L210.0 238.8 L210.4 238.3 L210.8 237.7 L211.2 237.0 L211.6 236.3 L212.0 235.4 L212.4 234.5 L212.8 233.5 L213.2 232.4 L213.6 231.2 L214.0 229.9 L214.4 228.5 L214.8 227.0 L215.2 225.6 L215.6 224.2 L216.0 222.8 L216.4 221.6 L216.8 220.4 L217.2 219.4 L217.6 218.5 L218.0 217.7 L218.4 217.0 L218.8 216.5 L219.2 216.1 L219.6 215.8 L220.0 215.6 L220.4 215.6 L220.8 215.9 L221.2 216.3 L221.6 216.8 L222.0 217.4 L222.4 218.0 L222.8 218.7 L223.2 219.5 L223.6 220.5 L224.0 221.6 L224.4 223.0 L224.8 224.7 L225.2 226.4 L225.6 228.3 L226.0 230.1 L226.4 231.9 L226.8 233.6 L227.2 235.0 L227.6 236.2 L228.0 237.0 L228.4 237.5 L228.8 237.5 L229.2 237.1 L229.6 235.5 L230.0 233.0 L230.4 230.0 L230.8 226.7 L231.2 223.6 L231.6 221.0 L232.0 219.0 L232.4 217.5 L232.8 216.2 L233.2 215.0 L233.6 213.7 L234.0 212.3 L234.4 210.8 L234.8 209.3 L235.2 207.7 L235.6 206.1 L236.0 204.6 L236.4 203.1 L236.8 201.7 L237.2 200.4 L237.6 199.2 L238.0 198.2 L238.4 197.4 L238.8 196.8 L239.2 196.4 L239.6 196.2 L240.0 196.4 L240.4 196.9 L240.8 197.9 L241.2 199.4 L241.6 201.2 L242.0 203.3 L242.4 205.6 L242.8 207.9 L243.2 210.1 L243.6 212.3 L244.0 214.2 L244.4 215.8 L244.8 217.1 L245.2 218.4 L245.6 219.6 L246.0 221.0 L246.4 222.6 L246.8 224.4 L247.2 226.2 L247.6 227.9 L248.0 229.3 L248.4 230.3 L248.8 230.6 L249.2 230.4 L249.6 230.0 L250.0 229.3 L250.4 228.5 L250.8 227.5 L251.2 226.5 L251.6 225.5 L252.0 224.6 L252.4 223.8 L252.8 223.3 L253.2 222.9 L253.6 222.9 L254.0 223.3 L254.4 223.9 L254.8 224.8 L255.2 225.8 L255.6 227.0 L256.0 228.2 L256.4 229.4 L256.8 230.5 L257.2 231.5 L257.6 232.4 L258.0 233.1 L258.4 233.6 L258.8 233.9 L259.2 234.2 L259.6 234.5 L260.0 234.7 L260.4 234.9 L260.8 235.1 L261.2 235.4 L261.6 235.8 L262.0 236.3 L262.4 236.9 L262.8 237.6 L263.2 238.5 L263.6 239.4 L264.0 240.4 L264.4 241.4 L264.8 242.4 L265.2 243.4 L265.6 244.3 L266.0 245.2 L266.4 246.0 L266.8 246.8 L267.2 247.4 L267.6 247.8 L268.0 248.1 L268.4 248.2 L268.8 248.0 L269.2 247.6 L269.6 246.8 L270.0 245.7 L270.4 244.3 L270.8 242.6 L271.2 240.7 L271.6 238.5 L272.0 236.0 L272.4 233.2 L272.8 230.1 L273.2 227.3 L273.6 224.9 L274.0 223.0 L274.4 221.4 L274.8 220.2 L275.2 219.3 L275.6 218.7 L276.0 218.2 L276.4 217.9 L276.8 217.7 L277.2 217.6 L277.6 217.6 L278.0 217.8 L278.4 218.1 L278.8 218.5 L279.2 219.0 L279.6 219.6 L280.0 220.3 L280.4 221.0 L280.8 221.6 L281.2 222.3 L281.6 223.0 L282.0 223.6 L282.4 224.1 L282.8 224.5 L283.2 224.8 L283.6 225.0 L284.0 225.0 L284.4 224.8 L284.8 224.4 L285.2 223.9 L285.6 223.3 L286.0 222.6 L286.4 221.8 L286.8 221.0 L287.2 220.2 L287.6 219.4 L288.0 218.7 L288.4 218.0 L288.8 217.4 L289.2 217.0 L289.6 216.7 L290.0 216.6 L290.4 216.7 L290.8 216.9 L291.2 217.2 L291.6 217.7 L292.0 218.2 L292.4 218.7 L292.8 219.3 L293.2 219.9 L293.6 220.5 L294.0 221.2 L294.4 221.8 L294.8 222.5 L295.2 223.2 L295.6 223.9 L296.0 224.6 L296.4 225.3 L296.8 226.0 L297.2 226.6 L297.6 227.3 L298.0 227.9 L298.4 228.5 L298.8 229.2 L299.2 229.7 L299.6 230.3 L300.0 230.9 L300.4 231.4 L300.8 231.8 L301.2 232.2 L301.6 232.6 L302.0 232.9 L302.4 233.1 L302.8 233.2 L303.2 233.3 L303.6 233.3 L304.0 233.0 L304.4 232.7 L304.8 232.2 L305.2 231.7 L305.6 231.0 L306.0 230.2 L306.4 229.4 L306.8 228.6 L307.2 227.8 L307.6 226.9 L308.0 226.1 L308.4 225.3 L308.8 224.5 L309.2 223.8 L309.6 223.2 L310.0 222.7 L310.4 222.3 L310.8 222.1 L311.2 222.0 L311.6 222.1 L312.0 222.4 L312.4 222.9 L312.8 223.5 L313.2 224.2 L313.6 225.0 L314.0 225.9 L314.4 226.9 L314.8 227.9 L315.2 229.0 L315.6 230.0 L316.0 231.0 L316.4 231.9 L316.8 232.8 L317.2 233.6 L317.6 234.3 L318.0 234.8 L318.4 235.2 L318.8 235.4 L319.2 235.4 L319.6 235.3 L320.0 235.1 L320.4 234.7 L320.8 234.1 L321.2 233.3 L321.6 232.4 L322.0 231.2 L322.4 229.8 L322.8 228.1 L323.2 226.0 L323.6 223.4 L324.0 220.6 L324.4 218.0 L324.8 215.8 L325.2 214.0 L325.6 212.5 L326.0 211.3 L326.4 210.3 L326.8 209.7 L327.2 209.4 L327.6 209.4 L328.0 209.4 L328.4 209.5 L328.8 209.7 L329.2 210.0 L329.6 210.5 L330.0 211.1 L330.4 211.9 L330.8 212.8 L331.2 213.9 L331.6 215.3 L332.0 217.0 L332.4 219.1 L332.8 221.7 L333.2 224.0 L333.6 225.7 L334.0 226.9 L334.4 227.8 L334.8 228.5 L335.2 229.2 L335.6 229.7 L336.0 230.1 L336.4 230.6 L336.8 231.0 L337.2 231.4 L337.6 231.9 L338.0 232.5 L338.4 233.3 L338.8 234.4 L339.2 236.0 L339.6 238.2 L340.0 240.7 L340.4 243.2 L340.8 245.7 L341.2 248.0 L341.6 250.1 L342.0 252.2 L342.4 254.0 L342.8 255.7 L343.2 256.9 L343.6 257.4 L344.0 257.2 L344.4 256.6 L344.8 255.8 L345.2 254.8 L345.6 253.9 L346.0 253.0 L346.4 252.3 L346.8 251.9 L347.2 251.9 L347.6 252.2 L348.0 253.0 L348.4 254.0 L348.8 255.2 L349.2 256.5 L349.6 258.0 L350.0 259.4 L350.4 260.9 L350.8 262.2 L351.2 263.3 L351.6 264.1 L352.0 264.7 L352.4 264.9 L352.8 264.8 L353.2 263.9 L353.6 262.0 L354.0 259.4 L354.4 256.2 L354.8 252.8 L355.2 249.3 L355.6 246.0 L356.0 242.8 L356.4 239.9 L356.8 237.4 L357.2 235.6 L357.6 234.4 L358.0 233.6 L358.4 233.1 L358.8 232.7 L359.2 232.5 L359.6 232.3 L360.0 232.2 L360.4 232.0 L360.8 231.8 L361.2 231.4 L361.6 231.0 L362.0 230.5 L362.4 229.8 L362.8 228.9 L363.2 227.9 L363.6 226.6 L364.0 225.0 L364.4 223.2 L364.8 221.0 L365.2 218.4 L365.6 215.6 L366.0 213.0 L366.4 210.7 L366.8 208.6 L367.2 206.8 L367.6 205.3 L368.0 204.1 L368.4 203.3 L368.8 202.9 L369.2 202.8 L369.6 203.1 L370.0 203.6 L370.4 204.3 L370.8 205.1 L371.2 206.0 L371.6 207.0 L372.0 207.9 L372.4 208.7 L372.8 209.4 L373.2 209.9 L373.6 210.2 L374.0 210.2 L374.4 210.0 L374.8 209.8 L375.2 209.4 L375.6 209.0 L376.0 208.5 L376.4 208.0 L376.8 207.6 L377.2 207.2 L377.6 206.9 L378.0 206.7 L378.4 206.6 L378.8 206.8 L379.2 207.3 L379.6 208.0 L380.0 208.9 L380.4 209.9 L380.8 210.9 L381.2 211.9 L381.6 212.9 L382.0 214.1 L382.4 215.4 L382.8 216.7 L383.2 218.0 L383.6 219.3 L384.0 220.5 L384.4 221.4 L384.8 222.2 L385.2 222.8 L385.6 223.2 L386.0 223.6 L386.4 224.0 L386.8 224.3 L387.2 224.7 L387.6 225.2 L388.0 225.8 L388.4 226.5 L388.8 227.4 L389.2 228.6 L389.6 230.0 L390.0 231.5 L390.4 233.0 L390.8 234.5 L391.2 235.9 L391.6 237.0 L392.0 238.0 L392.4 238.9 L392.8 239.6 L393.2 240.3 L393.6 240.8 L394.0 241.2 L394.4 241.5 L394.8 241.8 L395.2 241.9 L395.6 242.0 L396.0 242.1 L396.4 242.2 L396.8 242.2 L397.2 242.2 L397.6 242.3 L398.0 242.2 L398.4 242.2 L398.8 242.2 L399.2 242.2 L399.6 242.2 L400.0 242.1 L400.4 242.1 L400.8 242.1 L401.2 242.1 L401.6 242.1 L402.0 242.0 L402.4 241.8 L402.8 241.5 L403.2 241.2 L403.6 240.7 L404.0 240.0 L404.4 239.3 L404.8 238.3 L405.2 237.1 L405.6 235.6 L406.0 233.9 L406.4 231.9 L406.8 229.8 L407.2 227.4 L407.6 224.8 L408.0 222.2 L408.4 219.9 L408.8 217.8 L409.2 216.0 L409.6 214.4 L410.0 213.0 L410.4 211.8 L410.8 210.7 L411.2 209.8 L411.6 208.9 L412.0 208.2 L412.4 207.5 L412.8 206.9 L413.2 206.3 L413.6 205.9 L414.0 205.5 L414.4 205.1 L414.8 204.9 L415.2 204.7 L415.6 204.5 L416.0 204.4 L416.4 204.4 L416.8 204.5 L417.2 205.0 L417.6 205.9 L418.0 207.1 L418.4 208.6 L418.8 210.1 L419.2 211.6 L419.6 213.0 L420.0 214.2 L420.4 215.4 L420.8 216.6 L421.2 217.8 L421.6 219.3 L422.0 221.0 L422.4 223.1 L422.8 225.4 L423.2 227.4 L423.6 229.0 L424.0 230.2 L424.4 231.1 L424.8 231.8 L425.2 232.4 L425.6 232.9 L426.0 233.3 L426.4 233.7 L426.8 234.0 L427.2 234.4 L427.6 234.8 L428.0 235.4 L428.4 236.0 L428.8 236.6 L429.2 237.3 L429.6 238.0 L430.0 238.6 L430.4 239.2 L430.8 239.7 L431.2 240.1 L431.6 240.3 L432.0 240.4 L432.4 240.3 L432.8 239.8 L433.2 239.1 L433.6 238.1 L434.0 236.8 L434.4 235.2 L434.8 233.2 L435.2 231.0 L435.6 228.4 L436.0 225.5 L436.4 222.6 L436.8 220.2 L437.2 218.0 L437.6 215.7 L438.0 213.0 L438.4 209.7 L438.8 206.4 L439.2 203.8 L439.6 202.0 L440.0 200.8 L440.4 199.9 L440.8 199.4 L441.2 199.1 L441.6 199.0 L442.0 199.0 L442.4 199.1 L442.8 199.4 L443.2 199.8 L443.6 200.4 L444.0 200.9 L444.4 201.6 L444.8 202.1 L445.2 202.7 L445.6 203.1 L446.0 203.4 L446.4 203.5 L446.8 203.4 L447.2 203.0 L447.6 202.4 L448.0 201.6 L448.4 200.7 L448.8 199.7 L449.2 198.6 L449.6 197.6 L450.0 196.5 L450.4 195.5 L450.8 194.6 L451.2 193.7 L451.6 192.8 L452.0 192.0 L452.4 191.2 L452.8 190.3 L453.2 189.5 L453.6 188.6 L454.0 187.7 L454.4 186.9 L454.8 186.6 L455.2 186.8 L455.6 187.2 L456.0 187.7 L456.4 188.3 L456.8 189.0 L457.2 189.7 L457.6 190.6 L458.0 191.6 L458.4 192.8 L458.8 194.2 L459.2 195.9 L459.6 197.8 L460.0 199.9 L460.4 202.1 L460.8 204.2 L461.2 206.3 L461.6 208.5 L462.0 210.6 L462.4 212.8 L462.8 214.9 L463.2 217.1 L463.6 219.1 L464.0 221.1 L464.4 222.8 L464.8 224.3 L465.2 225.5 L465.6 226.4 L466.0 226.8 L466.4 227.0 L466.8 226.8 L467.2 226.4 L467.6 225.5 L468.0 224.3 L468.4 222.9 L468.8 221.2 L469.2 219.4 L469.6 217.6 L470.0 215.9 L470.4 214.2 L470.8 212.7 L471.2 211.2 L471.6 209.9 L472.0 208.6 L472.4 207.3 L472.8 206.2 L473.2 205.0 L473.6 203.9 L474.0 202.8" stroke="#e377c2" stroke-width="1.25" fill="none" stroke-linejoin="round" stroke-linecap="square"/>
<path d="M69.5 281.9 v2.9 M113.0 281.9 v2.9 M156.4 281.9 v2.9 M200.5 281.9 v2.9 M243.6 281.9 v2.9 M287.4 281.9 v2.9 M331.4 281.9 v2.9 M374.5 281.9 v2.9 M418.4 281.9 v2.9 M462.0 281.9 v2.9 M40.0 256.9 h-3.0 M40.0 222.2 h-3.0 M40.0 187.5 h-3.0" stroke="#222" stroke-width="0.9" fill="none"/>
<rect x="40.0" y="156.5" width="454.4" height="125.4" fill="none" stroke="#303030" stroke-width="0.75"/>
<text transform="translate(34.0 261.8) scale(0.977 1)" text-anchor="end">0</text>
<text transform="translate(34.0 227.1) scale(0.977 1)" text-anchor="end">5</text>
<text transform="translate(34.0 192.4) scale(0.977 1)" text-anchor="end">10</text>
<text transform="translate(14.4 219.2) rotate(-90)" text-anchor="middle">Volume Transport (Sv)</text>
<text transform="translate(44.3 171.1) scale(0.977 1)">(b)</text>
<rect x="179.7" y="162.7" width="308.8" height="19.8" rx="2.2" ry="2.2" fill="#fff" fill-opacity="0.8" stroke="#ccc" stroke-opacity="0.8" stroke-width="1"/>
<path d="M183.1 171.6 H207.1" stroke="#2ca02c" stroke-width="1.3" fill="none"/>
<text transform="translate(216.3 175.9) scale(0.977 1)">MB</text>
<path d="M255.7 171.6 H279.8" stroke="#0000ff" stroke-width="1.3" fill="none"/>
<text transform="translate(288.5 175.9) scale(0.977 1)">MB - Θ WB1/2</text>
<path d="M388.2 171.6 H412.2" stroke="#e377c2" stroke-width="1.3" fill="none"/>
<text transform="translate(421.2 175.9) scale(0.977 1)">MB - Θ EB1</text>
</g>
<text transform="translate(69.5 297.2) scale(0.977 1)" text-anchor="middle">2015</text>
<text transform="translate(113.0 297.2) scale(0.977 1)" text-anchor="middle">2016</text>
<text transform="translate(156.4 297.2) scale(0.977 1)" text-anchor="middle">2017</text>
<text transform="translate(200.5 297.2) scale(0.977 1)" text-anchor="middle">2018</text>
<text transform="translate(243.6 297.2) scale(0.977 1)" text-anchor="middle">2019</text>
<text transform="translate(287.4 297.2) scale(0.977 1)" text-anchor="middle">2020</text>
<text transform="translate(331.4 297.2) scale(0.977 1)" text-anchor="middle">2021</text>
<text transform="translate(374.5 297.2) scale(0.977 1)" text-anchor="middle">2022</text>
<text transform="translate(418.4 297.2) scale(0.977 1)" text-anchor="middle">2023</text>
<text transform="translate(462.0 297.2) scale(0.977 1)" text-anchor="middle">2024</text>
</svg>
</body></html>
